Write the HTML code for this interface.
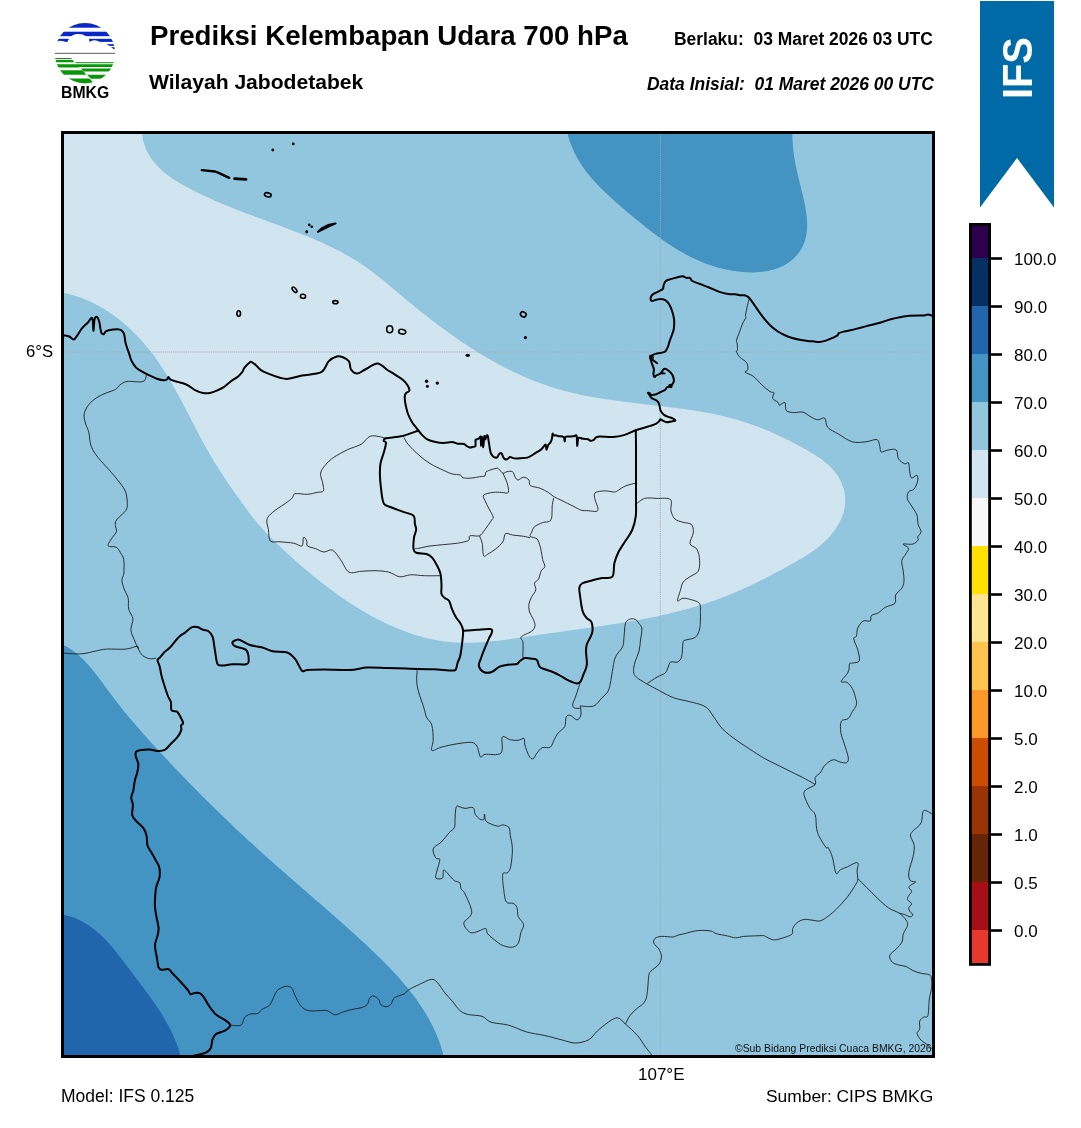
<!DOCTYPE html>
<html><head><meta charset="utf-8"><style>
html,body{margin:0;padding:0;background:#fff;width:1081px;height:1128px;overflow:hidden;position:relative}
.t{position:absolute;font-family:"Liberation Sans",sans-serif;white-space:nowrap;line-height:1;color:#000;will-change:transform}
.b{font-weight:bold}
.i{font-style:italic}
</style></head><body>
<svg width="70" height="70" viewBox="0 0 70 70" style="position:absolute;left:50px;top:18px">
<defs><clipPath id="lc"><circle cx="35" cy="35.2" r="30.2"/></clipPath></defs>
<g clip-path="url(#lc)">
<rect x="0" y="4" width="70" height="5.7" fill="#0a28c8"/>
<rect x="0" y="13.7" width="70" height="4.5" fill="#0a28c8"/>
<rect x="0" y="20.8" width="70" height="3.1" fill="#0a28c8"/>
<rect x="51" y="26.1" width="19" height="1.8" fill="#0a28c8"/>
<rect x="60" y="29.2" width="10" height="1.8" fill="#0a28c8"/>
<path d="M0,25 L4,25 Q9,21 17,24.5 L19,20.8 Q22,16 28,15.9 Q33,15.8 36,18.2 L39,20.8 L39.5,24 Q44,20.5 50,24 L51,26.1 Q56,24 61,29 L64,31.5 L70,31.5 L70,33 L0,33 Z" fill="#fff"/>
<rect x="0" y="34.8" width="70" height="1.1" fill="#6a6a6a"/>
<path d="M0,39.9 L21,39.9 L22,40.9 L0,40.9 Z" fill="#0a960a"/>
<path d="M0,42.1 L22.5,42.1 L24.6,44.3 L0,44.3 Z" fill="#0a960a"/>
<path d="M25,43.9 L70,43.9 L70,45.2 L26.2,45.2 Z" fill="#3aa83a"/>
<path d="M0,46.3 L70,46.3 L70,48.9 L29.5,48.9 L29,49.6 L0,49.6 Z" fill="#0a960a"/>
<path d="M31,50.5 L70,50.5 L70,53.6 L33.8,53.6 Z" fill="#0a960a"/>
<path d="M0,52.3 L32.5,52.3 L36.4,56.7 L0,56.7 Z" fill="#0a960a"/>
<path d="M37,56.7 L70,56.7 L70,60.7 L41,60.7 Z" fill="#0a960a"/>
<path d="M0,60.4 L39.5,60.4 L44.5,65.8 L0,65.8 Z" fill="#0a960a"/>
</g>
</svg>
<div class="t b" style="left:61.3px;top:85px;font-size:15.8px;transform:scaleY(1.1);transform-origin:0 100%">BMKG</div>
<div class="t b" style="left:150px;top:22.2px;font-size:27.65px">Prediksi Kelembapan Udara 700 hPa</div>
<div class="t b" style="left:149px;top:71.3px;font-size:21.1px">Wilayah Jabodetabek</div>
<div class="t b" style="right:148px;top:31.4px;font-size:17.45px">Berlaku:&nbsp;&nbsp;03 Maret 2026 03 UTC</div>
<div class="t b i" style="right:147.5px;top:75.5px;font-size:17.45px">Data Inisial:&nbsp;&nbsp;01 Maret 2026 00 UTC</div>
<svg width="1081" height="1128" style="position:absolute;left:0;top:0">
<path d="M980,1 L1054,1 L1054,207.5 L1017,158 L980,207.5 Z" fill="#006aa6"/>
</svg>
<div class="t b" style="left:1017.5px;top:68.3px;font-size:39.8px;color:#fff;transform:translate(-50%,-50%) rotate(-90deg) scaleY(1.05);transform-origin:center">IFS</div>
<svg width="1081" height="1128" viewBox="0 0 1081 1128" style="position:absolute;left:0;top:0">
<defs><clipPath id="mc"><rect x="64" y="134" width="868" height="921"/></clipPath></defs>
<g clip-path="url(#mc)">
<rect x="64" y="134" width="868" height="921" fill="#92c5de"/>
<path d="M143.0,130.0 L142.1,133.9 L142.5,136.6 L142.9,139.2 L143.5,141.7 L144.3,144.2 L145.1,146.6 L146.0,148.9 L147.0,151.2 L148.1,153.3 L149.3,155.5 L150.6,157.5 L152.0,159.5 L153.5,161.4 L155.0,163.3 L156.6,165.1 L158.3,166.9 L160.0,168.6 L161.8,170.3 L163.7,171.9 L165.6,173.5 L167.6,175.0 L169.6,176.5 L171.6,177.9 L173.7,179.4 L175.9,180.7 L178.0,182.1 L180.2,183.4 L182.4,184.7 L184.6,185.9 L186.9,187.1 L189.1,188.3 L191.4,189.5 L193.6,190.7 L195.9,191.8 L198.2,193.0 L200.4,194.1 L202.7,195.2 L205.0,196.2 L207.3,197.3 L209.6,198.3 L211.9,199.3 L214.2,200.4 L216.4,201.4 L218.7,202.3 L221.0,203.3 L223.3,204.3 L225.7,205.2 L228.0,206.2 L230.3,207.1 L232.6,208.0 L234.9,208.9 L237.2,209.8 L239.5,210.7 L241.8,211.6 L244.2,212.5 L246.5,213.4 L248.8,214.3 L251.1,215.1 L253.5,216.0 L255.8,216.9 L258.1,217.7 L260.4,218.6 L262.8,219.4 L265.1,220.3 L267.4,221.2 L269.8,222.0 L272.1,222.9 L274.4,223.7 L276.8,224.6 L279.1,225.5 L281.4,226.3 L283.8,227.2 L286.1,228.1 L288.4,229.0 L290.8,229.9 L293.1,230.8 L295.4,231.7 L297.8,232.6 L300.1,233.5 L302.4,234.4 L304.8,235.4 L307.1,236.3 L309.4,237.3 L311.8,238.3 L314.1,239.3 L316.4,240.3 L318.7,241.3 L321.1,242.3 L323.4,243.3 L325.7,244.4 L328.0,245.5 L330.3,246.6 L332.5,247.7 L334.8,248.8 L337.1,249.9 L339.3,251.1 L341.6,252.2 L343.8,253.4 L346.0,254.7 L348.2,255.9 L350.4,257.1 L352.5,258.4 L354.7,259.7 L356.8,261.0 L358.9,262.4 L361.0,263.8 L363.0,265.2 L365.1,266.6 L367.1,268.0 L369.1,269.5 L371.1,270.9 L373.1,272.4 L375.1,273.9 L377.0,275.4 L379.0,277.0 L380.9,278.5 L382.9,280.1 L384.8,281.7 L386.7,283.2 L388.6,284.8 L390.5,286.4 L392.4,288.0 L394.3,289.6 L396.2,291.2 L398.1,292.8 L400.0,294.4 L401.9,296.1 L403.8,297.7 L405.8,299.3 L407.7,300.9 L409.6,302.5 L411.6,304.0 L413.5,305.6 L415.4,307.2 L417.4,308.8 L419.3,310.4 L421.3,311.9 L423.3,313.5 L425.2,315.1 L427.2,316.6 L429.2,318.2 L431.2,319.7 L433.2,321.2 L435.2,322.8 L437.2,324.3 L439.2,325.8 L441.2,327.3 L443.3,328.8 L445.3,330.3 L447.3,331.8 L449.4,333.2 L451.4,334.7 L453.5,336.1 L455.5,337.6 L457.6,339.0 L459.7,340.4 L461.7,341.9 L463.8,343.3 L465.9,344.6 L468.0,346.0 L470.1,347.4 L472.2,348.7 L474.4,350.1 L476.5,351.4 L478.6,352.7 L480.7,354.0 L482.9,355.3 L485.0,356.6 L487.2,357.9 L489.4,359.1 L491.5,360.4 L493.7,361.6 L495.9,362.8 L498.1,364.0 L500.3,365.2 L502.5,366.3 L504.7,367.5 L506.9,368.6 L509.1,369.7 L511.4,370.8 L513.6,371.9 L515.8,373.0 L518.1,374.0 L520.3,375.1 L522.6,376.1 L524.9,377.1 L527.2,378.0 L529.5,379.0 L531.7,379.9 L534.1,380.9 L536.4,381.7 L538.7,382.6 L541.0,383.5 L543.3,384.3 L545.7,385.1 L548.0,385.9 L550.4,386.7 L552.7,387.5 L555.1,388.2 L557.5,388.9 L559.9,389.6 L562.3,390.3 L564.7,390.9 L567.1,391.5 L569.5,392.1 L571.9,392.7 L574.3,393.3 L576.8,393.8 L579.2,394.4 L581.6,394.9 L584.1,395.4 L586.6,395.9 L589.0,396.3 L591.5,396.8 L594.0,397.2 L596.4,397.7 L598.9,398.1 L601.4,398.5 L603.9,398.9 L606.4,399.2 L608.9,399.6 L611.4,400.0 L613.9,400.3 L616.4,400.7 L618.9,401.0 L621.4,401.3 L623.9,401.7 L626.4,402.0 L628.9,402.3 L631.4,402.6 L633.9,402.9 L636.5,403.2 L639.0,403.5 L641.5,403.8 L644.0,404.1 L646.5,404.4 L649.0,404.7 L651.6,405.0 L654.1,405.3 L656.6,405.5 L659.1,405.8 L661.6,406.1 L664.1,406.4 L666.7,406.7 L669.2,407.1 L671.7,407.4 L674.2,407.7 L676.7,408.0 L679.2,408.4 L681.7,408.7 L684.2,409.0 L686.7,409.4 L689.2,409.8 L691.6,410.1 L694.1,410.5 L696.6,410.9 L699.1,411.3 L701.5,411.8 L704.0,412.2 L706.5,412.6 L708.9,413.1 L711.4,413.6 L713.8,414.1 L716.2,414.6 L718.7,415.1 L721.1,415.7 L723.5,416.2 L725.9,416.8 L728.3,417.4 L730.7,418.0 L733.1,418.7 L735.5,419.3 L737.9,420.0 L740.2,420.7 L742.6,421.4 L744.9,422.2 L747.3,422.9 L749.6,423.7 L751.9,424.5 L754.3,425.4 L756.6,426.2 L758.9,427.1 L761.2,428.0 L763.5,428.9 L765.8,429.9 L768.1,430.8 L770.4,431.8 L772.7,432.8 L774.9,433.8 L777.2,434.9 L779.5,435.9 L781.8,437.0 L784.0,438.1 L786.3,439.2 L788.6,440.3 L790.9,441.5 L793.1,442.7 L795.4,443.9 L797.7,445.1 L799.9,446.3 L802.2,447.5 L804.5,448.8 L806.8,450.1 L809.0,451.4 L811.3,452.7 L813.5,454.1 L815.7,455.5 L817.9,456.9 L820.0,458.3 L822.1,459.8 L824.1,461.4 L826.0,463.0 L827.9,464.6 L829.8,466.3 L831.5,468.1 L833.2,469.9 L834.8,471.7 L836.3,473.7 L837.6,475.6 L838.9,477.7 L840.1,479.8 L841.1,482.0 L842.1,484.2 L842.9,486.5 L843.6,488.8 L844.2,491.1 L844.6,493.5 L845.0,495.9 L845.2,498.2 L845.2,500.7 L845.1,503.1 L844.9,505.5 L844.6,507.9 L844.1,510.3 L843.5,512.6 L842.7,515.0 L841.8,517.3 L840.8,519.6 L839.7,521.9 L838.5,524.1 L837.2,526.3 L835.9,528.4 L834.4,530.5 L832.9,532.5 L831.3,534.5 L829.7,536.4 L828.0,538.3 L826.2,540.1 L824.5,541.8 L822.6,543.5 L820.7,545.1 L818.8,546.7 L816.9,548.2 L814.9,549.7 L812.8,551.2 L810.8,552.6 L808.7,554.0 L806.6,555.4 L804.5,556.7 L802.3,558.0 L800.1,559.3 L797.9,560.6 L795.7,561.9 L793.5,563.1 L791.3,564.3 L789.1,565.6 L786.8,566.8 L784.6,568.0 L782.4,569.2 L780.1,570.4 L777.9,571.6 L775.6,572.8 L773.4,574.0 L771.2,575.2 L768.9,576.3 L766.6,577.5 L764.4,578.7 L762.1,579.8 L759.8,580.9 L757.6,582.1 L755.3,583.2 L753.0,584.3 L750.7,585.4 L748.5,586.5 L746.2,587.5 L743.9,588.6 L741.6,589.6 L739.3,590.6 L737.0,591.6 L734.7,592.6 L732.4,593.6 L730.0,594.5 L727.7,595.5 L725.4,596.4 L723.1,597.3 L720.7,598.1 L718.4,599.0 L716.1,599.9 L713.7,600.7 L711.4,601.5 L709.0,602.3 L706.7,603.1 L704.3,603.9 L701.9,604.6 L699.6,605.3 L697.2,606.1 L694.8,606.8 L692.4,607.5 L690.1,608.2 L687.7,608.8 L685.3,609.5 L682.9,610.1 L680.5,610.7 L678.1,611.4 L675.7,612.0 L673.3,612.6 L670.9,613.1 L668.5,613.7 L666.1,614.3 L663.7,614.8 L661.2,615.4 L658.8,615.9 L656.4,616.4 L654.0,616.9 L651.5,617.4 L649.1,617.9 L646.7,618.4 L644.2,618.8 L641.8,619.3 L639.3,619.8 L636.9,620.2 L634.5,620.7 L632.0,621.1 L629.6,621.5 L627.1,621.9 L624.6,622.4 L622.2,622.8 L619.7,623.2 L617.3,623.6 L614.8,624.0 L612.3,624.3 L609.8,624.7 L607.4,625.1 L604.9,625.5 L602.4,625.9 L599.9,626.2 L597.5,626.6 L595.0,626.9 L592.5,627.3 L590.0,627.7 L587.5,628.0 L585.0,628.4 L582.6,628.7 L580.1,629.1 L577.6,629.4 L575.1,629.8 L572.6,630.1 L570.1,630.5 L567.6,630.8 L565.1,631.2 L562.6,631.5 L560.1,631.8 L557.6,632.2 L555.1,632.6 L552.6,632.9 L550.1,633.3 L547.6,633.6 L545.1,634.0 L542.5,634.3 L540.0,634.7 L537.5,635.1 L535.0,635.4 L532.5,635.8 L530.0,636.2 L527.5,636.6 L525.0,637.0 L522.5,637.3 L519.9,637.7 L517.4,638.1 L514.9,638.5 L512.4,638.8 L509.9,639.2 L507.4,639.5 L504.9,639.8 L502.4,640.2 L499.9,640.5 L497.4,640.8 L494.9,641.0 L492.3,641.3 L489.8,641.6 L487.3,641.8 L484.9,642.0 L482.4,642.2 L479.9,642.3 L477.4,642.5 L474.9,642.6 L472.4,642.7 L469.9,642.7 L467.4,642.8 L465.0,642.8 L462.5,642.7 L460.0,642.7 L457.6,642.6 L455.1,642.4 L452.6,642.3 L450.2,642.1 L447.7,641.8 L445.3,641.5 L442.8,641.2 L440.4,640.8 L438.0,640.4 L435.5,640.0 L433.1,639.5 L430.7,639.0 L428.3,638.5 L425.9,637.9 L423.5,637.3 L421.1,636.6 L418.7,636.0 L416.3,635.2 L413.9,634.5 L411.6,633.7 L409.2,632.9 L406.9,632.1 L404.5,631.2 L402.2,630.3 L399.9,629.4 L397.5,628.5 L395.2,627.5 L392.9,626.5 L390.6,625.5 L388.3,624.5 L386.1,623.4 L383.8,622.3 L381.5,621.2 L379.3,620.1 L377.1,618.9 L374.8,617.8 L372.6,616.6 L370.4,615.4 L368.2,614.1 L366.0,612.9 L363.8,611.6 L361.7,610.4 L359.5,609.1 L357.4,607.7 L355.2,606.4 L353.1,605.1 L351.0,603.7 L348.9,602.3 L346.8,600.9 L344.7,599.5 L342.6,598.1 L340.6,596.7 L338.5,595.2 L336.5,593.8 L334.4,592.3 L332.4,590.8 L330.4,589.3 L328.4,587.8 L326.4,586.3 L324.4,584.8 L322.4,583.2 L320.4,581.7 L318.5,580.1 L316.5,578.6 L314.5,577.0 L312.6,575.4 L310.7,573.8 L308.7,572.2 L306.8,570.6 L304.9,568.9 L303.0,567.3 L301.1,565.7 L299.2,564.0 L297.3,562.4 L295.5,560.7 L293.6,559.1 L291.7,557.4 L289.9,555.7 L288.0,554.1 L286.2,552.4 L284.4,550.7 L282.5,549.0 L280.7,547.3 L278.9,545.6 L277.1,543.9 L275.3,542.2 L273.6,540.5 L271.8,538.8 L270.0,537.0 L268.3,535.2 L266.6,533.4 L264.9,531.6 L263.2,529.8 L261.6,528.0 L260.0,526.1 L258.4,524.2 L256.8,522.3 L255.2,520.3 L253.7,518.4 L252.1,516.4 L250.6,514.4 L249.1,512.4 L247.6,510.4 L246.1,508.4 L244.6,506.4 L243.1,504.4 L241.6,502.4 L240.2,500.3 L238.7,498.3 L237.2,496.3 L235.8,494.2 L234.3,492.2 L232.9,490.1 L231.5,488.0 L230.0,486.0 L228.6,483.9 L227.2,481.8 L225.8,479.8 L224.4,477.7 L223.0,475.6 L221.7,473.5 L220.3,471.4 L218.9,469.3 L217.6,467.1 L216.3,465.0 L215.0,462.9 L213.6,460.7 L212.4,458.6 L211.1,456.4 L209.8,454.3 L208.6,452.1 L207.3,449.9 L206.1,447.7 L204.9,445.6 L203.7,443.4 L202.5,441.2 L201.3,438.9 L200.1,436.7 L198.9,434.5 L197.7,432.3 L196.6,430.1 L195.4,427.9 L194.3,425.6 L193.1,423.4 L192.0,421.2 L190.8,419.0 L189.7,416.7 L188.5,414.5 L187.4,412.3 L186.2,410.1 L185.1,407.9 L183.9,405.6 L182.7,403.4 L181.6,401.2 L180.4,399.0 L179.2,396.8 L178.0,394.6 L176.8,392.4 L175.6,390.2 L174.4,388.1 L173.2,385.9 L172.0,383.7 L170.7,381.6 L169.4,379.4 L168.2,377.3 L166.9,375.2 L165.6,373.1 L164.2,371.0 L162.9,368.9 L161.6,366.8 L160.2,364.7 L158.8,362.7 L157.4,360.6 L155.9,358.6 L154.5,356.6 L153.0,354.6 L151.5,352.6 L150.0,350.6 L148.4,348.7 L146.8,346.7 L145.2,344.8 L143.6,342.9 L141.9,341.0 L140.2,339.1 L138.5,337.3 L136.8,335.5 L135.0,333.7 L133.2,331.9 L131.4,330.1 L129.5,328.4 L127.6,326.7 L125.7,325.0 L123.8,323.4 L121.9,321.7 L119.9,320.1 L117.9,318.6 L115.9,317.0 L113.8,315.5 L111.8,314.1 L109.7,312.7 L107.6,311.3 L105.5,309.9 L103.3,308.6 L101.2,307.3 L99.0,306.1 L96.8,304.9 L94.6,303.7 L92.3,302.6 L90.1,301.6 L87.8,300.5 L85.6,299.6 L83.3,298.7 L81.0,297.8 L78.7,297.0 L76.3,296.2 L74.0,295.5 L71.6,294.8 L69.3,294.2 L66.9,293.6 L64.5,293.1 L60.0,293.8 L60.0,130.0Z" fill="#d1e5f0"/>
<path d="M568.4,130.0 L567.8,134.4 L568.4,136.9 L569.1,139.3 L569.9,141.8 L570.8,144.2 L571.7,146.5 L572.7,148.8 L573.7,151.1 L574.8,153.4 L575.9,155.6 L577.1,157.8 L578.4,159.9 L579.6,162.0 L581.0,164.1 L582.4,166.2 L583.8,168.2 L585.2,170.2 L586.7,172.2 L588.3,174.2 L589.9,176.1 L591.5,178.0 L593.1,179.9 L594.8,181.8 L596.5,183.6 L598.2,185.5 L600.0,187.3 L601.8,189.1 L603.6,190.8 L605.4,192.6 L607.3,194.3 L609.2,196.1 L611.0,197.8 L612.9,199.5 L614.8,201.2 L616.8,202.9 L618.7,204.6 L620.6,206.2 L622.6,207.9 L624.5,209.6 L626.5,211.2 L628.4,212.9 L630.4,214.5 L632.3,216.2 L634.3,217.8 L636.2,219.4 L638.2,221.0 L640.1,222.6 L642.1,224.2 L644.1,225.8 L646.0,227.4 L648.0,229.0 L650.0,230.5 L652.0,232.1 L654.0,233.6 L656.0,235.1 L658.0,236.6 L660.0,238.0 L662.0,239.5 L664.1,240.9 L666.1,242.4 L668.2,243.7 L670.3,245.1 L672.3,246.5 L674.4,247.8 L676.5,249.1 L678.7,250.4 L680.8,251.6 L683.0,252.8 L685.1,254.0 L687.3,255.2 L689.5,256.3 L691.7,257.4 L693.9,258.5 L696.2,259.6 L698.5,260.6 L700.8,261.6 L703.1,262.5 L705.4,263.4 L707.7,264.3 L710.1,265.1 L712.5,265.9 L714.9,266.6 L717.4,267.4 L719.8,268.0 L722.3,268.7 L724.8,269.2 L727.4,269.8 L729.9,270.3 L732.5,270.7 L735.1,271.1 L737.7,271.5 L740.4,271.8 L743.0,272.0 L745.6,272.2 L748.3,272.3 L750.9,272.4 L753.5,272.4 L756.2,272.3 L758.8,272.1 L761.3,271.9 L763.9,271.6 L766.4,271.2 L768.9,270.7 L771.3,270.1 L773.7,269.5 L776.1,268.7 L778.4,267.9 L780.7,266.9 L782.9,265.9 L785.0,264.8 L787.1,263.5 L789.1,262.2 L791.0,260.7 L792.9,259.2 L794.6,257.5 L796.3,255.8 L797.8,254.0 L799.3,252.1 L800.6,250.1 L801.8,248.0 L802.9,245.9 L803.8,243.7 L804.7,241.5 L805.3,239.2 L805.9,236.9 L806.4,234.5 L806.7,232.1 L806.9,229.7 L807.1,227.2 L807.1,224.7 L807.1,222.2 L806.9,219.7 L806.7,217.1 L806.4,214.5 L806.1,212.0 L805.7,209.4 L805.2,206.8 L804.8,204.2 L804.2,201.6 L803.6,199.0 L803.0,196.3 L802.4,193.8 L801.8,191.2 L801.2,188.6 L800.5,186.0 L799.9,183.5 L799.3,181.0 L798.6,178.5 L798.0,176.0 L797.5,173.6 L796.9,171.1 L796.4,168.7 L795.9,166.3 L795.4,163.9 L795.0,161.5 L794.6,159.1 L794.2,156.7 L793.8,154.3 L793.5,151.9 L793.2,149.5 L793.0,147.0 L792.8,144.6 L792.6,142.1 L792.4,139.6 L792.4,137.0 L792.3,134.5 L792.1,130.0Z" fill="#4393c3"/>
<path d="M60.0,647.0 L65.0,645.7 L67.1,646.9 L69.2,648.2 L71.3,649.5 L73.3,650.9 L75.2,652.4 L77.1,654.0 L79.0,655.6 L80.8,657.2 L82.6,658.9 L84.3,660.6 L86.0,662.4 L87.7,664.2 L89.3,666.1 L90.9,667.9 L92.5,669.9 L94.1,671.8 L95.6,673.8 L97.2,675.8 L98.7,677.8 L100.2,679.8 L101.7,681.8 L103.2,683.8 L104.7,685.9 L106.2,687.9 L107.7,690.0 L109.2,692.0 L110.7,694.0 L112.2,696.1 L113.7,698.1 L115.2,700.1 L116.8,702.1 L118.3,704.1 L119.9,706.0 L121.4,708.0 L123.0,710.0 L124.6,711.9 L126.2,713.8 L127.8,715.8 L129.4,717.7 L131.0,719.6 L132.6,721.5 L134.3,723.4 L135.9,725.3 L137.5,727.2 L139.2,729.1 L140.8,731.0 L142.5,732.9 L144.1,734.8 L145.8,736.6 L147.5,738.5 L149.2,740.4 L150.9,742.2 L152.5,744.1 L154.2,745.9 L155.9,747.8 L157.6,749.6 L159.3,751.4 L161.0,753.3 L162.7,755.1 L164.5,756.9 L166.2,758.8 L167.9,760.6 L169.6,762.4 L171.3,764.2 L173.1,766.1 L174.8,767.9 L176.5,769.7 L178.3,771.5 L180.0,773.3 L181.7,775.1 L183.5,776.9 L185.2,778.8 L187.0,780.6 L188.7,782.4 L190.5,784.2 L192.3,786.0 L194.0,787.7 L195.8,789.5 L197.6,791.3 L199.3,793.1 L201.1,794.9 L202.9,796.7 L204.7,798.5 L206.4,800.2 L208.2,802.0 L210.0,803.8 L211.8,805.5 L213.6,807.3 L215.4,809.1 L217.2,810.8 L219.0,812.6 L220.8,814.3 L222.6,816.1 L224.4,817.8 L226.2,819.6 L228.0,821.3 L229.9,823.0 L231.7,824.8 L233.5,826.5 L235.3,828.2 L237.1,830.0 L239.0,831.7 L240.8,833.4 L242.6,835.1 L244.5,836.8 L246.3,838.5 L248.2,840.2 L250.0,841.9 L251.9,843.6 L253.7,845.3 L255.6,847.0 L257.4,848.7 L259.3,850.4 L261.1,852.1 L263.0,853.7 L264.9,855.4 L266.7,857.1 L268.6,858.8 L270.5,860.4 L272.3,862.1 L274.2,863.7 L276.1,865.4 L278.0,867.0 L279.8,868.7 L281.7,870.3 L283.6,872.0 L285.5,873.6 L287.4,875.3 L289.3,876.9 L291.1,878.6 L293.0,880.2 L294.9,881.8 L296.8,883.5 L298.7,885.1 L300.6,886.8 L302.5,888.4 L304.4,890.0 L306.3,891.7 L308.2,893.3 L310.0,894.9 L311.9,896.6 L313.8,898.2 L315.7,899.9 L317.6,901.5 L319.5,903.1 L321.4,904.8 L323.3,906.4 L325.2,908.1 L327.1,909.7 L328.9,911.4 L330.8,913.0 L332.7,914.7 L334.6,916.3 L336.5,918.0 L338.4,919.7 L340.2,921.3 L342.1,923.0 L344.0,924.7 L345.9,926.4 L347.7,928.0 L349.6,929.7 L351.5,931.4 L353.3,933.1 L355.2,934.8 L357.1,936.5 L358.9,938.2 L360.8,939.9 L362.6,941.6 L364.5,943.3 L366.3,945.1 L368.2,946.8 L370.0,948.5 L371.8,950.3 L373.7,952.0 L375.5,953.8 L377.3,955.5 L379.1,957.3 L380.9,959.1 L382.7,960.8 L384.5,962.6 L386.3,964.4 L388.1,966.2 L389.8,968.1 L391.6,969.9 L393.3,971.7 L395.0,973.6 L396.7,975.4 L398.4,977.3 L400.1,979.2 L401.7,981.1 L403.4,983.0 L405.0,984.9 L406.6,986.8 L408.2,988.7 L409.8,990.7 L411.3,992.7 L412.8,994.6 L414.3,996.6 L415.8,998.6 L417.3,1000.7 L418.7,1002.7 L420.1,1004.7 L421.5,1006.8 L422.8,1008.9 L424.1,1011.0 L425.4,1013.1 L426.7,1015.2 L428.0,1017.4 L429.2,1019.5 L430.3,1021.7 L431.5,1023.9 L432.6,1026.1 L433.7,1028.4 L434.7,1030.6 L435.8,1032.9 L436.7,1035.2 L437.7,1037.5 L438.6,1039.8 L439.5,1042.2 L440.3,1044.6 L441.1,1047.0 L441.8,1049.4 L442.6,1051.8 L443.2,1054.3 L442.2,1060.0 L60.0,1060.0Z" fill="#4393c3"/>
<path d="M60.0,916.3 L64.1,914.9 L66.7,915.5 L69.3,916.2 L71.7,917.0 L74.2,917.8 L76.5,918.8 L78.8,919.8 L81.1,920.9 L83.3,922.1 L85.4,923.4 L87.6,924.7 L89.6,926.1 L91.6,927.5 L93.6,929.0 L95.6,930.6 L97.5,932.2 L99.4,933.8 L101.2,935.5 L103.0,937.3 L104.8,939.1 L106.6,940.9 L108.3,942.8 L110.0,944.7 L111.7,946.6 L113.3,948.6 L115.0,950.6 L116.6,952.6 L118.2,954.6 L119.8,956.7 L121.4,958.7 L123.0,960.8 L124.6,962.9 L126.1,965.0 L127.7,967.0 L129.3,969.1 L130.9,971.2 L132.4,973.3 L134.0,975.4 L135.6,977.5 L137.1,979.5 L138.7,981.6 L140.3,983.7 L141.8,985.7 L143.4,987.8 L144.9,989.9 L146.4,991.9 L148.0,994.0 L149.5,996.1 L151.0,998.2 L152.4,1000.3 L153.9,1002.4 L155.4,1004.5 L156.8,1006.6 L158.2,1008.7 L159.6,1010.8 L160.9,1013.0 L162.3,1015.1 L163.6,1017.3 L164.9,1019.5 L166.1,1021.7 L167.4,1023.9 L168.6,1026.1 L169.7,1028.3 L170.9,1030.6 L172.0,1032.8 L173.0,1035.1 L174.1,1037.4 L175.1,1039.8 L176.0,1042.1 L176.9,1044.5 L177.8,1046.9 L178.6,1049.3 L179.4,1051.7 L180.1,1054.2 L179.0,1060.0 L60.0,1060.0Z" fill="#2166ac"/>
<line x1="64" y1="352" x2="932" y2="352" stroke="#aaaaaa" stroke-width="1" stroke-dasharray="1.1,1"/>
<line x1="660.3" y1="134" x2="660.3" y2="1055" stroke="#aaaaaa" stroke-width="1" stroke-dasharray="1.1,1"/>
<path d="M146.5,374.6 C145.9,375.8 146.3,380.4 143.0,381.5 C139.7,382.6 130.7,380.9 126.9,381.5 C123.1,382.1 121.9,383.6 120.0,384.9 C118.1,386.2 117.7,388.1 115.4,389.5 C113.1,390.9 109.2,391.6 106.1,393.0 C103.0,394.4 99.8,395.7 96.9,397.6 C94.0,399.5 90.9,401.8 88.8,404.5 C86.7,407.2 84.8,410.7 84.2,413.8 C83.6,416.9 84.6,419.9 85.4,423.0 C86.2,426.1 87.8,428.3 88.8,432.2 C89.8,436.1 89.5,441.9 91.1,446.1 C92.6,450.3 95.2,453.8 98.1,457.6 C101.0,461.4 104.8,464.9 108.4,469.1 C112.1,473.3 117.1,479.1 120.0,483.0 C122.9,486.9 124.5,488.8 125.7,492.2 C126.9,495.6 127.3,500.6 127.3,503.7 C127.3,506.8 127.5,507.9 125.7,510.6 C123.9,513.3 118.2,517.4 116.5,519.9 C114.8,522.4 115.4,523.7 115.4,525.6 C115.4,527.5 117.0,529.4 116.5,531.4 C116.0,533.4 113.6,535.5 112.2,537.7 C110.8,539.9 108.5,543.1 108.1,544.6 C107.6,546.1 108.1,546.0 109.5,546.5 C110.9,547.0 114.6,546.2 116.4,547.3 C118.2,548.3 119.3,550.7 120.5,552.8 C121.7,554.9 123.2,556.2 123.8,559.7 C124.3,563.2 124.1,570.1 123.8,573.5 C123.5,576.9 121.8,577.5 121.9,580.3 C122.0,583.0 123.5,587.0 124.6,590.0 C125.6,593.0 127.5,595.0 128.2,598.2 C128.9,601.4 127.9,605.8 128.7,609.2 C129.5,612.6 132.5,615.4 132.9,618.8 C133.3,622.2 130.7,626.3 130.9,629.8 C131.1,633.2 132.9,636.3 134.2,639.5 C135.4,642.7 137.0,646.5 138.4,649.1 C139.8,651.8 140.7,653.8 142.5,655.4 C144.3,657.0 147.1,658.2 149.4,658.7 C151.7,659.2 155.1,658.2 156.2,658.1" fill="none" stroke="#1e1e1e" stroke-width="0.9" stroke-linejoin="round"/>
<path d="M64.1,653.2 C67.1,653.3 76.7,654.2 82.0,653.8 C87.3,653.4 91.6,651.8 95.7,651.0 C99.8,650.2 101.7,649.4 106.7,649.1 C111.8,648.8 121.0,649.6 126.0,649.1 C131.1,648.6 134.9,646.3 137.0,646.3 C139.1,646.3 138.2,648.6 138.4,649.1" fill="none" stroke="#1e1e1e" stroke-width="0.9" stroke-linejoin="round"/>
<path d="M386.0,438.2 C383.5,437.8 375.0,435.0 370.9,436.0 C366.8,437.0 365.1,441.9 361.2,444.2 C357.3,446.5 352.1,447.5 347.5,449.7 C342.9,451.9 337.4,454.9 333.7,457.4 C330.0,459.9 327.7,462.3 325.5,464.9 C323.3,467.5 321.1,470.1 320.6,473.1 C320.1,476.1 322.1,479.7 322.6,482.7 C323.1,485.7 324.3,489.4 323.4,491.0 C322.5,492.6 319.8,491.8 317.1,492.4 C314.5,492.9 311.2,494.1 307.5,494.3 C303.8,494.5 297.6,493.1 295.1,493.7 C292.6,494.3 293.9,496.3 292.3,497.9 C290.7,499.5 288.0,501.6 285.5,503.4 C283.0,505.2 279.9,506.8 277.2,508.9 C274.4,510.9 270.7,513.7 269.0,515.7 C267.3,517.8 266.9,518.9 266.8,521.2 C266.7,523.5 267.8,526.2 268.4,529.5 C269.0,532.8 268.4,539.0 270.3,541.0 C272.2,543.0 276.1,541.4 280.0,541.8 C283.9,542.2 290.0,542.5 293.7,543.2 C297.4,543.9 300.4,546.9 302.0,546.0 C303.6,545.1 302.8,539.0 303.3,537.7 C303.9,536.4 304.7,537.6 305.3,538.3 C305.9,539.0 306.5,540.5 306.9,541.8 C307.3,543.1 306.0,544.9 307.5,546.0 C309.0,547.1 312.9,547.7 315.7,548.7 C318.4,549.7 321.2,551.8 324.0,552.0 C326.8,552.2 329.6,548.8 332.4,550.1 C335.2,551.4 337.9,556.0 340.6,559.7 C343.4,563.4 345.5,570.2 348.9,572.1 C352.3,574.0 356.8,571.5 361.2,571.3 C365.6,571.1 370.4,570.6 375.0,570.7 C379.6,570.8 384.6,571.1 388.7,572.1 C392.8,573.1 396.0,576.3 399.7,576.8 C403.4,577.2 406.6,575.0 410.7,574.8 C414.8,574.6 419.4,575.6 424.5,575.7 C429.6,575.9 438.2,575.7 441.0,575.7" fill="none" stroke="#1e1e1e" stroke-width="0.9" stroke-linejoin="round"/>
<path d="M403.9,437.4 C404.6,438.5 405.5,441.2 408.0,444.2 C410.5,447.2 415.3,452.0 419.0,455.2 C422.7,458.4 425.9,461.0 430.0,463.5 C434.1,466.0 440.0,468.7 443.7,470.4 C447.4,472.1 449.2,473.1 452.0,473.9 C454.8,474.7 458.4,474.4 460.2,475.0 C462.0,475.6 461.2,477.3 463.0,477.8 C464.8,478.3 468.4,478.3 471.2,478.1 C473.9,477.9 477.2,477.1 479.5,476.7 C481.8,476.3 483.9,476.7 485.0,475.9 C486.1,475.1 484.5,472.9 486.3,471.7 C488.1,470.4 493.9,468.8 496.0,468.4 C498.1,467.9 497.6,468.2 498.7,469.0 C499.8,469.8 501.4,472.7 502.8,473.1 C504.2,473.6 505.4,471.9 507.0,471.7 C508.6,471.5 511.1,470.8 512.5,471.7 C513.9,472.6 514.3,475.8 515.2,477.2 C516.1,478.6 516.6,480.0 518.0,480.0 C519.4,480.0 521.7,477.2 523.5,477.2 C525.3,477.2 527.9,478.6 529.0,480.0 C530.1,481.4 528.5,484.1 530.3,485.5 C532.1,486.9 537.0,487.1 540.0,488.2 C543.0,489.3 545.9,491.0 548.2,492.4 C550.5,493.8 551.4,495.1 553.7,496.5 C556.0,497.9 558.8,499.0 562.0,500.6 C565.2,502.2 569.8,504.5 573.0,506.1 C576.2,507.7 578.7,509.4 581.2,510.2 C583.7,511.0 585.7,510.5 588.2,510.7 C590.8,510.9 594.9,511.8 596.5,511.3 C598.1,510.9 598.1,509.9 597.9,508.0 C597.7,506.1 595.6,502.2 595.1,499.7 C594.6,497.2 593.5,494.4 595.1,492.9 C596.7,491.4 601.5,491.0 604.7,490.9 C607.9,490.8 612.1,492.1 614.4,492.0 C616.7,491.9 616.7,491.1 618.5,490.1 C620.3,489.1 622.5,487.2 625.4,486.0 C628.3,484.8 634.2,483.5 636.0,483.0" fill="none" stroke="#1e1e1e" stroke-width="0.9" stroke-linejoin="round"/>
<path d="M502.8,473.1 C503.5,474.7 506.1,479.5 507.0,482.7 C507.9,485.9 509.2,490.8 508.3,492.4 C507.4,494.0 504.0,492.4 501.5,492.4 C499.0,492.4 496.2,491.9 493.2,492.4 C490.2,492.8 485.0,493.7 483.6,495.1 C482.2,496.5 484.1,498.3 485.0,500.6 C485.9,502.9 487.7,506.1 489.1,508.9 C490.5,511.6 492.8,515.3 493.2,517.1 C493.6,518.9 493.2,517.7 491.8,519.8 C490.4,521.9 487.1,526.8 485.0,529.5 C482.9,532.2 482.0,534.8 479.5,535.8 C477.0,536.8 471.6,535.0 469.8,535.8 C468.0,536.6 470.6,539.3 468.5,540.5 C466.4,541.7 461.6,542.5 457.5,543.2 C453.4,543.9 448.3,544.1 443.7,544.6 C439.1,545.1 434.1,545.4 430.0,546.0 C425.9,546.6 421.5,547.8 419.0,548.2 C416.5,548.7 415.6,548.6 414.9,548.7" fill="none" stroke="#1e1e1e" stroke-width="0.9" stroke-linejoin="round"/>
<path d="M479.5,535.8 C479.9,537.0 481.5,539.9 482.2,543.2 C482.9,546.5 482.7,553.8 483.6,555.6 C484.5,557.4 485.6,555.4 487.7,554.2 C489.8,553.1 493.5,550.8 496.0,548.7 C498.5,546.6 501.2,544.3 502.8,541.8 C504.4,539.3 504.0,534.7 505.6,533.6 C507.2,532.5 509.5,534.5 512.5,535.0 C515.5,535.5 520.5,535.8 523.5,536.3 C526.5,536.8 529.2,537.5 530.3,537.7" fill="none" stroke="#1e1e1e" stroke-width="0.9" stroke-linejoin="round"/>
<path d="M553.7,497.9 C553.5,499.0 552.8,501.1 552.3,504.7 C551.8,508.3 552.6,516.8 551.0,519.8 C549.4,522.8 545.5,521.5 542.7,522.6 C540.0,523.8 536.3,525.1 534.5,526.7 C532.7,528.3 532.4,530.6 531.7,532.2 C531.0,533.8 529.4,535.1 530.3,536.3 C531.2,537.4 535.6,537.5 537.2,539.1 C538.8,540.7 539.3,543.9 540.0,546.0 C540.7,548.1 540.8,549.2 541.3,551.5 C541.8,553.8 542.1,557.2 542.7,559.7 C543.3,562.2 545.1,564.8 544.9,566.6 C544.7,568.4 542.3,568.6 541.3,570.7 C540.2,572.8 539.7,576.9 538.6,579.0 C537.5,581.1 535.0,581.3 534.5,583.1 C534.0,584.9 536.3,587.7 535.8,590.0 C535.3,592.3 532.8,594.5 531.7,596.8 C530.6,599.1 529.4,601.2 529.0,603.7 C528.6,606.2 528.8,609.5 529.5,612.0 C530.2,614.5 532.2,616.5 533.1,618.8 C534.0,621.1 535.2,623.6 535.0,625.7 C534.8,627.8 533.6,629.6 531.7,631.2 C529.8,632.8 525.3,634.1 523.5,635.3 C521.7,636.4 520.8,637.0 520.7,638.1 C520.6,639.2 522.5,639.2 522.9,642.2 C523.3,645.2 522.9,653.2 522.9,656.0 C522.9,658.8 522.9,658.5 522.9,659.0" fill="none" stroke="#1e1e1e" stroke-width="0.9" stroke-linejoin="round"/>
<path d="M636.4,503.9 C637.8,503.0 641.2,499.3 644.6,498.4 C648.0,497.5 652.7,498.2 657.0,498.4 C661.3,498.6 668.1,497.4 670.4,499.5 C672.7,501.6 670.2,507.8 671.0,511.0 C671.8,514.2 672.9,517.1 674.9,519.0 C676.9,520.9 680.4,521.4 683.1,522.3 C685.9,523.2 689.7,522.8 691.4,524.5 C693.1,526.2 693.5,529.5 693.3,532.7 C693.1,535.9 689.4,541.0 690.0,543.7 C690.6,546.5 695.3,546.5 696.9,549.2 C698.5,552.0 699.4,556.5 699.6,560.2 C699.8,563.9 699.8,568.5 698.2,571.2 C696.6,574.0 692.5,574.9 690.0,576.7 C687.5,578.5 684.7,579.9 683.1,582.2 C681.5,584.5 681.3,587.4 680.4,590.5 C679.5,593.6 677.1,599.6 677.6,600.9 C678.1,602.2 680.6,598.3 683.1,598.2 C685.6,598.1 690.0,599.2 692.7,600.1 C695.5,601.0 698.3,601.6 699.6,603.7 C700.9,605.8 700.3,609.8 700.4,612.5 C700.5,615.2 700.5,617.2 700.4,620.0 C700.3,622.8 700.4,626.1 699.6,629.0 C698.8,631.9 697.8,635.4 695.5,637.2 C693.2,639.0 688.0,639.2 685.9,640.0 C683.8,640.8 683.8,639.5 683.1,642.2 C682.4,645.0 682.6,653.2 681.7,656.5 C680.8,659.8 679.4,661.1 677.6,662.0 C675.8,662.9 672.3,661.1 670.7,662.0 C669.1,662.9 668.9,665.7 668.0,667.5 C667.1,669.3 667.0,671.4 665.2,673.0 C663.4,674.6 660.0,675.4 657.0,677.1 C654.0,678.8 649.0,682.4 647.4,683.4" fill="none" stroke="#1e1e1e" stroke-width="0.9" stroke-linejoin="round"/>
<path d="M580.0,706.0 C582.3,706.0 590.0,707.4 593.7,706.0 C597.4,704.6 599.7,700.0 602.0,697.7 C604.3,695.4 606.1,694.5 607.5,692.2 C608.9,689.9 609.3,688.1 610.2,684.0 C611.1,679.9 612.1,672.1 613.0,667.5 C613.9,662.9 614.1,660.0 615.7,656.5 C617.3,653.0 621.2,650.0 622.6,646.8 C624.0,643.6 623.5,641.1 624.0,637.2 C624.5,633.3 624.5,626.5 625.4,623.5 C626.3,620.5 627.9,620.0 629.5,619.3 C631.1,618.6 633.4,618.6 635.0,619.3 C636.6,620.0 638.0,621.9 639.1,623.5 C640.2,625.1 641.7,626.2 641.9,629.0 C642.1,631.8 641.0,636.3 640.5,640.0 C640.0,643.7 640.0,647.3 639.1,651.0 C638.2,654.7 635.9,658.6 635.0,662.0 C634.1,665.4 633.4,669.1 633.6,671.6 C633.8,674.1 634.3,675.1 636.4,677.1 C638.5,679.1 642.1,681.1 646.0,683.4 C649.9,685.7 655.1,688.4 659.7,690.8 C664.3,693.2 668.5,695.9 673.5,697.7 C678.5,699.5 685.4,700.6 690.0,701.8 C694.6,703.0 698.2,703.6 701.2,704.8 C704.2,706.0 705.8,706.7 708.1,709.0 C710.4,711.3 712.4,715.2 714.9,718.6 C717.4,722.0 719.5,726.0 723.2,729.6 C726.9,733.2 731.9,736.9 736.9,740.5 C741.9,744.1 748.8,748.5 753.4,751.5 C758.0,754.5 760.3,756.1 764.4,758.4 C768.5,760.7 773.5,763.0 778.1,765.3 C782.7,767.6 787.3,769.8 791.9,772.1 C796.5,774.4 801.7,776.9 805.6,779.0 C809.5,781.1 813.6,783.6 815.2,784.5" fill="none" stroke="#1e1e1e" stroke-width="0.9" stroke-linejoin="round"/>
<path d="M417.2,670.1 C417.1,672.0 416.5,677.7 416.7,681.3 C416.9,684.9 417.4,687.5 418.6,691.9 C419.8,696.3 422.6,703.7 423.9,707.9 C425.2,712.1 425.2,714.3 426.5,717.2 C427.8,720.1 430.7,721.3 431.8,725.1 C432.9,728.9 433.2,735.6 433.2,739.8 C433.2,744.0 430.5,749.2 431.8,750.4 C433.1,751.6 437.0,748.3 441.2,747.2 C445.4,746.1 452.0,744.6 457.1,743.8 C462.2,743.0 468.4,742.0 471.7,742.4 C475.0,742.8 475.5,744.0 477.0,746.4 C478.5,748.8 479.2,755.7 480.5,757.0 C481.8,758.3 481.6,755.0 485.0,754.4 C488.4,753.8 498.1,756.0 501.0,753.1 C503.9,750.2 500.8,739.3 502.3,737.1 C503.9,734.9 507.6,739.3 510.3,739.8 C513.0,740.3 516.0,740.5 518.3,740.3 C520.6,740.1 523.0,737.6 524.1,738.4 C525.2,739.2 524.1,742.2 524.9,745.1 C525.7,748.0 527.6,753.4 528.9,755.7 C530.2,758.0 531.6,759.3 532.9,758.9 C534.2,758.5 535.3,755.0 536.9,753.1 C538.5,751.2 540.0,748.7 542.2,747.7 C544.4,746.7 548.2,748.5 550.2,747.2 C552.2,745.9 552.9,742.1 554.2,739.8 C555.5,737.4 556.3,735.3 558.1,733.1 C559.9,730.9 563.5,729.1 564.8,726.5 C566.1,723.9 565.2,719.1 566.1,717.2 C567.0,715.3 568.3,714.9 570.1,715.3 C571.9,715.7 575.0,719.7 576.8,719.8 C578.6,719.9 580.1,717.7 580.7,715.8 C581.4,713.9 580.8,710.0 580.7,708.4 C580.6,706.8 580.1,706.4 580.0,706.0" fill="none" stroke="#1e1e1e" stroke-width="0.9" stroke-linejoin="round"/>
<path d="M580.7,708.4 C579.6,708.3 575.4,708.6 574.1,707.9 C572.8,707.1 572.6,705.7 572.8,703.9 C573.0,702.1 574.5,699.7 575.4,697.2 C576.3,694.8 577.3,691.5 578.1,689.2 C578.9,686.9 579.7,684.4 580.0,683.4" fill="none" stroke="#1e1e1e" stroke-width="0.9" stroke-linejoin="round"/>
<path d="M457.1,805.7 C457.6,805.9 458.5,806.3 459.8,806.8 C461.1,807.2 462.9,808.3 465.1,808.4 C467.3,808.5 471.4,806.6 473.1,807.6 C474.8,808.6 474.1,812.3 475.2,814.2 C476.3,816.1 478.3,818.1 479.7,819.0 C481.1,819.9 482.9,820.3 483.7,819.5 C484.5,818.7 484.1,814.0 484.5,814.2 C484.9,814.4 484.6,819.2 485.8,820.9 C487.0,822.6 489.6,823.4 491.7,824.3 C493.8,825.2 496.4,826.1 498.3,826.2 C500.2,826.3 501.0,824.7 502.8,824.9 C504.6,825.1 507.8,825.7 509.0,827.5 C510.2,829.3 509.7,832.0 510.3,835.5 C510.9,839.0 512.3,843.7 512.4,848.8 C512.5,853.9 511.6,862.1 510.8,866.1 C510.0,870.1 508.9,871.4 507.6,872.7 C506.3,874.0 503.5,871.3 502.8,874.0 C502.1,876.7 503.0,884.0 503.6,888.7 C504.2,893.4 504.8,899.6 506.3,902.0 C507.9,904.4 511.1,902.4 512.9,903.3 C514.7,904.2 516.0,905.1 516.9,907.3 C517.8,909.5 517.2,913.7 518.3,916.6 C519.4,919.5 523.2,922.0 523.6,924.6 C524.0,927.2 521.8,929.4 520.9,932.5 C520.0,935.6 519.7,940.8 518.3,943.2 C516.9,945.7 514.8,946.8 512.4,947.2 C509.9,947.6 506.2,946.7 503.6,945.8 C501.0,944.9 499.6,943.8 497.0,941.8 C494.4,939.8 489.6,936.1 487.7,933.9 C485.8,931.7 487.4,929.0 485.8,928.5 C484.2,928.0 481.0,930.5 478.4,931.2 C475.8,931.9 472.8,933.8 470.4,932.5 C468.0,931.2 463.6,926.5 463.8,923.2 C464.0,919.9 471.5,917.5 471.7,912.6 C471.9,907.7 466.9,898.0 465.1,894.0 C463.3,890.0 462.0,890.6 461.1,888.7 C460.2,886.8 460.9,884.1 459.8,882.8 C458.7,881.5 455.9,881.7 454.4,880.7 C452.8,879.7 452.3,878.5 450.5,876.7 C448.7,874.9 445.1,869.8 443.8,870.0 C442.5,870.2 443.8,876.7 442.5,878.0 C441.2,879.3 436.7,879.3 435.8,878.0 C434.9,876.7 436.5,873.1 437.2,870.0 C437.9,866.9 440.0,861.4 439.8,859.4 C439.6,857.4 436.9,859.9 435.8,858.1 C434.7,856.3 432.3,851.5 433.2,848.8 C434.1,846.1 438.5,844.8 441.2,842.1 C443.9,839.4 446.9,835.2 449.1,832.8 C451.3,830.4 453.4,829.7 454.4,827.5 C455.4,825.3 454.8,822.6 455.0,819.5 C455.2,816.4 455.4,811.2 455.8,808.9 C456.2,806.6 456.9,806.2 457.1,805.7" fill="none" stroke="#1e1e1e" stroke-width="0.9" stroke-linejoin="round"/>
<path d="M230.2,1025.2 C232.0,1025.2 238.5,1026.5 240.9,1025.2 C243.3,1024.0 242.9,1019.6 244.4,1017.7 C245.9,1015.9 247.8,1014.8 250.0,1014.1 C252.2,1013.4 255.9,1014.2 257.8,1013.5 C259.8,1012.8 259.8,1011.0 261.7,1009.6 C263.6,1008.2 267.6,1007.2 269.5,1005.3 C271.4,1003.3 272.1,1000.4 273.4,997.9 C274.7,995.4 275.2,992.5 277.3,990.5 C279.4,988.5 283.7,986.6 286.1,986.2 C288.5,985.8 290.4,986.7 291.9,988.2 C293.3,989.7 293.3,992.1 294.8,995.0 C296.3,997.9 298.4,1003.1 300.7,1005.7 C303.0,1008.3 305.2,1009.8 308.5,1010.6 C311.8,1011.4 317.1,1010.6 320.2,1010.6 C323.3,1010.6 325.1,1010.1 327.0,1010.6 C328.9,1011.1 330.4,1012.8 331.9,1013.5 C333.4,1014.2 334.2,1015.1 335.8,1014.9 C337.4,1014.7 339.0,1013.4 341.6,1012.5 C344.2,1011.6 348.1,1010.4 351.4,1009.6 C354.6,1008.8 358.5,1008.5 361.1,1007.7 C363.7,1006.9 365.5,1006.3 367.0,1004.7 C368.5,1003.1 368.8,999.4 369.9,997.9 C371.0,996.4 372.3,995.7 373.8,996.0 C375.3,996.3 377.5,998.0 378.7,999.5 C379.9,1001.0 379.7,1003.5 381.0,1004.7 C382.3,1005.9 384.8,1006.9 386.5,1006.7 C388.2,1006.6 390.3,1005.1 391.4,1003.8 C392.5,1002.5 392.2,1000.2 393.3,998.9 C394.4,997.6 396.4,996.8 398.2,996.0 C400.0,995.2 402.2,995.0 404.0,994.0 C405.8,993.0 406.3,991.3 408.9,989.7 C411.5,988.1 415.9,986.0 419.6,984.3 C423.3,982.6 428.4,979.7 431.3,979.4 C434.2,979.1 434.9,980.0 437.2,982.3 C439.5,984.6 442.4,989.8 445.0,993.0 C447.6,996.2 450.3,998.9 452.8,1001.8 C455.3,1004.7 457.4,1008.5 460.0,1010.6 C462.6,1012.7 464.9,1013.7 468.6,1014.6 C472.3,1015.5 478.3,1015.0 482.0,1016.3 C485.7,1017.5 486.4,1020.6 490.8,1022.1 C495.2,1023.6 502.7,1023.6 508.6,1025.2 C514.5,1026.8 520.5,1030.2 526.4,1031.9 C532.3,1033.6 538.2,1034.1 544.1,1035.4 C550.0,1036.7 556.7,1038.6 561.9,1039.9 C567.1,1041.2 570.8,1043.0 575.2,1043.0 C579.6,1043.0 584.8,1041.9 588.5,1039.9 C592.2,1037.9 594.1,1034.0 597.4,1031.0 C600.7,1028.0 605.1,1024.3 608.5,1022.1 C611.9,1019.9 614.8,1017.5 617.6,1017.8 C620.4,1018.1 622.1,1021.1 625.4,1024.0 C628.7,1026.9 634.0,1031.6 637.4,1035.4 C640.8,1039.2 643.2,1043.9 645.5,1047.0 C647.8,1050.1 649.8,1052.3 650.9,1053.8 C652.0,1055.3 651.8,1055.6 652.0,1056.0" fill="none" stroke="#1e1e1e" stroke-width="0.9" stroke-linejoin="round"/>
<path d="M625.4,1024.0 C626.2,1022.6 628.1,1018.0 630.0,1015.5 C631.9,1013.0 634.2,1011.0 636.6,1008.8 C639.0,1006.6 642.6,1004.8 644.4,1002.2 C646.2,999.6 646.5,997.8 647.2,993.3 C647.9,988.8 648.2,979.2 648.8,975.5 C649.4,971.8 649.3,973.0 651.0,971.1 C652.7,969.2 657.0,966.8 658.8,964.4 C660.5,962.0 661.5,959.3 661.5,956.7 C661.5,954.1 660.1,951.1 658.8,948.9 C657.5,946.7 654.5,945.0 653.9,943.3 C653.3,941.5 653.7,939.5 655.0,938.4 C656.3,937.2 658.8,936.6 661.8,936.4 C664.8,936.2 670.1,937.2 672.8,937.0 C675.5,936.8 675.9,935.7 678.2,935.1 C680.5,934.5 683.7,933.9 686.4,933.2 C689.1,932.5 691.9,931.5 694.6,931.0 C697.3,930.5 700.1,930.4 702.8,930.4 C705.5,930.4 708.7,930.5 711.0,931.0 C713.3,931.5 713.7,932.9 716.4,933.7 C719.1,934.5 724.1,935.2 727.3,935.9 C730.5,936.6 732.8,937.7 735.5,937.8 C738.2,937.9 740.5,936.7 743.7,936.4 C746.9,936.1 751.4,936.0 754.6,935.9 C757.8,935.8 761.0,935.5 762.8,935.6 C764.6,935.7 764.1,935.8 765.5,936.4 C766.9,937.0 769.2,938.7 771.0,939.2 C772.8,939.8 773.8,940.2 776.5,939.7 C779.2,939.2 784.8,937.4 787.4,936.4 C790.0,935.4 791.4,935.1 792.3,933.7 C793.2,932.4 792.0,930.1 792.8,928.3 C793.6,926.5 795.1,924.3 796.9,922.8 C798.7,921.3 801.3,920.0 803.8,919.5 C806.3,919.0 809.3,919.9 812.0,920.1 C814.7,920.3 817.4,921.6 820.1,920.9 C822.8,920.2 825.6,918.0 828.3,916.0 C831.0,914.0 833.3,912.3 836.5,909.1 C839.7,905.9 844.2,901.0 847.4,896.9 C850.6,892.8 853.9,887.6 855.6,884.6 C857.3,881.6 857.6,881.4 857.8,879.1 C858.0,876.8 856.9,873.4 857.0,870.9 C857.1,868.4 858.5,865.5 858.3,864.1 C858.1,862.8 857.4,862.3 855.6,862.8 C853.8,863.2 849.9,865.7 847.4,866.8 C844.9,867.9 842.5,868.5 840.6,869.6 C838.7,870.7 837.4,875.2 836.0,873.1 C834.6,871.0 833.7,861.5 832.4,857.3 C831.1,853.1 829.3,849.3 828.3,847.7 C827.3,846.1 827.7,849.5 826.2,847.7 C824.7,845.9 820.9,839.9 819.3,836.7 C817.7,833.5 817.3,832.2 816.6,828.5 C815.9,824.8 816.4,818.1 815.2,814.7 C814.1,811.3 811.5,811.1 809.7,807.9 C807.9,804.7 804.9,798.5 804.2,795.5 C803.5,792.5 803.8,791.8 805.6,790.0 C807.4,788.2 813.6,786.6 815.2,784.5 C816.8,782.4 814.3,779.7 815.2,777.6 C816.1,775.5 819.1,774.2 820.7,772.1 C822.3,770.0 822.7,767.3 824.8,765.3 C826.9,763.2 830.6,760.3 833.1,759.8 C835.6,759.2 837.6,761.5 839.9,762.0 C842.2,762.5 845.4,763.3 846.8,762.5 C848.2,761.7 848.7,760.2 848.2,757.0 C847.8,753.8 845.3,747.4 844.1,743.3 C842.9,739.2 841.3,736.0 840.8,732.3 C840.3,728.6 840.1,723.6 841.3,721.3 C842.5,719.0 846.4,720.2 848.2,718.6 C850.0,717.0 850.9,714.0 852.3,711.7 C853.7,709.4 855.8,707.1 856.4,704.8 C857.0,702.5 856.3,700.7 855.6,698.0 C854.9,695.3 853.8,691.0 852.3,688.4 C850.8,685.8 848.6,683.4 846.8,682.3 C845.0,681.1 841.1,683.2 841.3,681.5 C841.5,679.8 846.8,674.9 848.2,671.9 C849.6,668.9 848.9,665.1 849.6,663.6 C850.3,662.1 850.7,663.6 852.3,663.1 C853.9,662.6 858.3,663.1 859.2,660.9 C860.1,658.7 858.7,653.6 857.8,649.9 C856.9,646.2 853.9,641.2 853.7,638.9 C853.5,636.6 855.7,638.0 856.4,636.2 C857.1,634.4 856.6,630.4 857.8,627.9 C858.9,625.4 861.2,622.1 863.3,621.0 C865.4,619.9 868.8,621.9 870.2,621.0 C871.6,620.1 870.1,616.9 871.5,615.5 C872.9,614.1 876.1,614.2 878.4,612.8 C880.7,611.4 882.5,608.9 885.3,607.3 C888.0,605.7 893.2,605.3 894.9,603.2 C896.6,601.1 894.6,597.4 895.7,594.9 C896.9,592.4 900.4,590.4 901.8,588.1 C903.2,585.8 903.8,584.2 904.0,581.2 C904.2,578.2 903.5,573.6 903.1,570.2 C902.7,566.8 901.3,563.4 901.8,560.6 C902.3,557.9 904.8,555.8 905.9,553.7 C907.0,551.6 909.1,549.8 908.6,548.2 C908.1,546.6 902.4,544.8 903.1,544.1 C903.8,543.4 910.2,544.8 912.7,544.1 C915.2,543.4 917.4,541.2 918.2,540.0 C919.0,538.8 917.2,538.5 917.7,537.1 C918.2,535.7 920.9,533.7 921.0,531.6 C921.1,529.5 918.9,527.5 918.2,524.7 C917.5,522.0 917.9,518.1 916.9,515.1 C915.9,512.1 913.8,509.6 912.2,506.9 C910.6,504.1 907.9,501.1 907.3,498.6 C906.7,496.1 907.5,493.4 908.6,491.8 C909.7,490.2 912.6,490.8 914.1,489.0 C915.6,487.2 917.2,483.1 917.7,480.8 C918.2,478.5 918.0,475.8 916.9,475.3 C915.8,474.8 912.6,478.9 911.4,478.0 C910.2,477.1 910.0,472.3 909.5,469.8 C909.0,467.3 909.4,463.9 908.6,462.9 C907.8,461.9 906.2,464.4 904.5,463.7 C902.8,463.0 899.9,461.1 898.5,458.8 C897.1,456.5 898.0,451.5 896.3,450.0 C894.5,448.5 890.5,449.7 888.0,450.0 C885.5,450.3 882.6,452.5 881.2,451.9 C879.8,451.3 880.5,448.4 879.8,446.4 C879.1,444.3 879.3,440.4 877.0,439.6 C874.7,438.8 870.1,441.4 866.0,441.8 C861.9,442.2 856.9,443.1 852.3,441.8 C847.7,440.5 842.7,436.5 838.6,434.1 C834.5,431.7 829.9,429.9 827.6,427.2 C825.3,424.5 826.4,419.3 824.8,418.1 C823.2,416.9 820.3,420.0 818.0,419.8 C815.7,419.6 813.6,418.3 811.1,417.0 C808.6,415.7 805.6,412.8 802.9,412.1 C800.1,411.4 797.4,412.8 794.6,412.6 C791.9,412.4 788.0,412.4 786.4,410.7 C784.8,409.0 786.1,403.4 785.0,402.5 C783.9,401.6 780.6,405.2 779.5,405.2 C778.4,405.2 779.2,403.6 778.1,402.5 C777.0,401.4 773.3,400.0 772.6,398.4 C771.9,396.8 774.5,394.0 774.0,392.9 C773.5,391.8 772.0,392.9 769.9,391.5 C767.8,390.1 764.4,387.1 761.6,384.6 C758.9,382.1 756.1,378.4 753.4,376.4 C750.7,374.3 746.1,373.4 745.2,372.3 C744.3,371.2 747.7,371.1 747.9,369.5 C748.1,367.9 747.9,364.7 746.5,362.6 C745.1,360.5 741.4,358.9 739.7,357.1 C738.0,355.3 736.8,352.8 736.4,351.6 C736.0,350.4 737.4,351.2 737.5,349.9 C737.6,348.5 737.3,345.1 737.1,343.5 C736.9,341.9 736.2,341.9 736.5,340.2 C736.8,338.5 738.4,335.2 739.1,333.1 C739.9,331.1 740.4,329.6 741.0,327.9 C741.6,326.2 742.2,324.4 743.0,322.7 C743.8,321.0 745.4,318.9 745.8,317.6 C746.2,316.3 745.3,316.5 745.5,315.0 C745.7,313.5 746.4,310.6 746.8,308.5 C747.2,306.4 747.7,304.4 748.1,302.7 C748.5,301.0 749.2,298.9 749.4,298.1" fill="none" stroke="#1e1e1e" stroke-width="0.9" stroke-linejoin="round"/>
<path d="M858.3,879.1 C859.7,880.5 863.3,884.1 866.5,887.3 C869.7,890.5 873.8,894.8 877.4,898.2 C881.0,901.6 884.8,905.3 888.4,907.8 C892.0,910.3 896.3,911.2 899.3,913.2 C902.2,915.2 904.7,918.1 906.1,920.1 C907.5,922.1 908.0,923.2 907.5,925.5 C907.0,927.8 904.3,931.0 903.4,933.7 C902.5,936.4 903.1,939.4 902.0,941.9 C900.9,944.4 898.5,946.4 896.5,948.7 C894.5,951.0 890.4,953.2 889.7,955.5 C889.0,957.8 890.9,960.8 892.5,962.4 C894.1,964.0 897.0,964.4 899.3,965.1 C901.6,965.8 903.8,965.6 906.1,966.5 C908.4,967.4 910.4,969.5 912.9,970.6 C915.4,971.7 918.4,972.6 921.1,973.3 C923.8,974.0 927.6,973.8 929.3,974.7 C931.0,975.6 931.1,976.4 931.5,978.7 C931.9,981.0 931.9,984.9 931.5,988.3 C931.1,991.7 929.9,994.7 929.3,999.2 C928.7,1003.8 928.8,1012.6 927.9,1015.6 C927.0,1018.6 925.2,1016.1 923.8,1017.0 C922.4,1017.9 920.4,1019.1 919.7,1021.1 C919.0,1023.1 920.2,1027.2 919.7,1029.2 C919.2,1031.2 916.8,1031.5 917.0,1033.3 C917.2,1035.1 919.5,1038.4 921.1,1040.2 C922.7,1042.0 924.9,1042.9 926.6,1044.2 C928.3,1045.5 930.4,1047.3 931.5,1048.3 C932.6,1049.3 932.8,1049.7 933.0,1050.0" fill="none" stroke="#1e1e1e" stroke-width="0.9" stroke-linejoin="round"/>
<path d="M933.0,814.7 C931.5,814.0 925.7,809.2 923.7,810.6 C921.7,812.0 922.8,819.6 921.0,823.0 C919.2,826.4 914.5,829.0 912.7,831.2 C911.0,833.4 910.4,834.0 910.5,836.0 C910.6,838.0 912.9,841.0 913.5,843.0 C914.1,845.0 914.4,845.6 914.3,848.0 C914.2,850.4 913.8,853.2 912.9,857.3 C912.0,861.3 909.2,868.4 908.8,872.3 C908.3,876.2 909.1,878.9 910.2,880.5 C911.4,882.1 915.5,881.2 915.7,881.9 C915.9,882.6 912.8,883.7 911.6,884.6 C910.5,885.5 908.8,886.2 908.8,887.3 C908.8,888.4 911.6,890.0 911.6,891.4 C911.6,892.8 909.5,894.1 908.8,895.5 C908.1,896.9 907.0,898.2 907.5,899.6 C908.0,901.0 911.4,902.3 911.6,903.7 C911.8,905.1 909.0,906.4 908.8,907.8 C908.6,909.2 909.5,910.8 910.2,911.9 C910.9,913.0 912.9,913.8 912.9,914.6 C912.9,915.4 911.6,916.8 910.2,916.8 C908.8,916.8 906.5,915.2 904.7,914.6 C902.9,914.0 900.2,913.4 899.3,913.2" fill="none" stroke="#1e1e1e" stroke-width="0.9" stroke-linejoin="round"/>
<path d="M64.2,335.4 C65.0,335.6 67.6,335.8 69.2,336.5 C70.8,337.2 72.5,339.7 73.8,339.5 C75.1,339.3 75.9,337.2 77.3,335.4 C78.7,333.5 80.2,330.5 81.9,328.4 C83.6,326.3 86.0,324.4 87.7,322.7 C89.4,321.0 91.3,316.8 92.3,318.1 C93.2,319.4 93.0,330.5 93.4,330.7 C93.8,330.9 94.0,321.5 94.6,319.2 C95.2,316.9 96.1,316.5 96.9,316.9 C97.7,317.3 98.6,319.6 99.2,321.5 C99.8,323.4 100.0,326.5 100.4,328.4 C100.8,330.3 100.9,332.0 101.5,333.0 C102.1,334.0 103.0,334.5 103.8,334.2 C104.6,333.9 104.6,332.0 106.1,331.2 C107.6,330.4 110.7,329.9 113.0,329.6 C115.3,329.3 118.3,329.1 120.0,329.6 C121.7,330.1 122.6,331.5 123.4,332.6 C124.2,333.8 124.2,334.7 124.6,336.5 C125.0,338.3 124.9,340.5 125.7,343.4 C126.5,346.3 128.2,350.9 129.2,353.8 C130.2,356.7 130.3,358.4 131.5,360.7 C132.7,363.0 134.2,365.7 136.1,367.6 C138.0,369.5 140.7,370.9 143.0,372.2 C145.3,373.5 147.6,374.6 149.9,375.7 C152.2,376.8 154.6,377.9 156.9,378.7 C159.2,379.5 162.1,380.2 163.8,380.3 C165.5,380.4 166.4,379.8 167.2,379.2 C168.0,378.6 167.8,376.8 168.4,376.9 C169.0,377.0 169.2,378.8 170.7,379.6 C172.2,380.4 175.3,381.2 177.6,381.9 C179.9,382.6 182.6,383.1 184.5,383.8 C186.4,384.5 187.3,385.0 189.2,386.1 C191.1,387.2 193.8,389.6 196.1,390.7 C198.4,391.8 200.7,392.6 203.0,393.0 C205.3,393.4 207.6,393.4 209.9,393.0 C212.2,392.6 214.5,391.7 216.8,390.7 C219.1,389.7 221.4,388.7 223.7,387.2 C226.0,385.7 228.4,383.2 230.7,381.5 C233.0,379.8 235.7,378.4 237.6,376.9 C239.5,375.3 241.0,373.8 242.2,372.2 C243.3,370.6 243.3,369.1 244.5,367.6 C245.7,366.1 247.9,363.9 249.1,363.0 C250.2,362.1 250.2,361.5 251.4,361.9 C252.6,362.3 254.5,364.0 256.0,365.3 C257.5,366.6 258.7,368.5 260.6,369.9 C262.5,371.2 264.4,372.1 267.6,373.4 C270.8,374.7 276.6,376.8 280.0,377.7 C283.4,378.6 284.5,379.2 288.2,378.8 C291.9,378.4 296.5,376.6 302.0,375.5 C307.5,374.4 316.8,374.6 321.2,372.2 C325.6,369.8 326.0,364.0 328.6,361.4 C331.2,358.8 334.4,357.2 336.8,356.5 C339.2,355.8 340.9,356.5 342.9,357.3 C344.9,358.1 347.6,359.4 349.0,361.4 C350.4,363.4 349.6,367.5 351.0,369.5 C352.4,371.5 354.7,373.6 357.1,373.6 C359.5,373.6 361.8,371.2 365.2,369.5 C368.6,367.8 373.8,363.3 377.5,363.4 C381.2,363.5 384.6,368.2 387.4,370.0 C390.2,371.8 391.7,372.5 394.2,374.1 C396.7,375.7 400.3,377.8 402.5,379.6 C404.7,381.4 406.2,383.3 407.4,385.1 C408.5,386.9 409.7,389.2 409.4,390.6 C409.1,392.0 406.6,392.2 405.8,393.4 C405.0,394.5 404.7,395.4 404.7,397.5 C404.7,399.6 405.2,402.9 405.8,405.7 C406.4,408.4 406.9,411.2 408.0,414.0 C409.1,416.8 410.7,419.9 412.1,422.2 C413.5,424.5 415.1,426.3 416.2,427.7 C417.2,429.1 417.5,429.4 418.4,430.5 C419.3,431.6 420.2,433.1 421.7,434.6 C423.2,436.1 424.9,438.1 427.2,439.3 C429.5,440.5 432.8,441.4 435.5,442.0 C438.2,442.6 440.9,442.9 443.7,442.9 C446.4,442.9 449.7,441.9 452.0,442.0 C454.3,442.1 455.5,443.4 457.5,443.7 C459.5,444.0 462.4,443.6 463.9,444.0 C465.4,444.4 465.5,445.3 466.5,445.9 C467.5,446.5 468.6,447.3 469.7,447.5 C470.8,447.7 472.0,447.2 473.0,446.9 C474.0,446.6 475.1,447.0 475.5,445.9 C475.9,444.8 475.3,441.2 475.5,440.1 C475.7,439.0 476.2,439.7 476.8,439.4 C477.4,439.1 478.8,438.5 479.4,438.1 C480.0,437.7 480.4,435.5 480.7,436.8 C481.0,438.1 480.8,445.9 481.0,445.9 C481.2,445.9 481.6,436.6 482.0,436.8 C482.4,437.0 482.9,447.3 483.3,447.2 C483.7,447.1 484.0,437.5 484.3,436.2 C484.6,434.9 484.9,439.5 485.3,439.4 C485.7,439.3 486.2,436.0 486.6,435.5 C487.0,435.0 487.4,435.1 487.8,436.2 C488.2,437.3 488.4,439.7 488.8,442.0 C489.2,444.3 489.6,447.9 490.0,449.8 C490.4,451.8 490.5,452.5 491.1,453.7 C491.7,454.9 492.7,456.2 493.7,456.9 C494.7,457.5 496.0,458.0 496.9,457.6 C497.8,457.2 498.2,455.1 498.9,454.3 C499.5,453.5 500.3,453.0 500.8,453.0 C501.3,453.0 501.7,453.5 502.1,454.3 C502.5,455.1 502.8,456.7 503.4,457.6 C504.0,458.5 505.1,459.4 506.0,459.5 C506.9,459.6 508.0,458.6 508.6,458.2 C509.2,457.8 509.4,457.0 509.9,456.9 C510.4,456.8 510.8,457.3 511.8,457.6 C512.8,457.9 514.2,458.5 515.7,458.6 C517.2,458.7 519.0,458.4 520.9,458.2 C522.8,458.0 525.4,458.1 527.3,457.6 C529.2,457.1 530.8,456.0 532.5,455.0 C534.2,454.0 536.2,452.7 537.7,451.7 C539.2,450.7 540.3,450.3 541.6,449.1 C542.9,447.9 544.7,444.5 545.5,444.6 C546.3,444.7 546.1,449.7 546.5,449.8 C546.9,449.9 547.4,446.6 548.1,445.3 C548.8,444.0 550.1,443.2 550.7,442.0 C551.4,440.8 551.7,439.5 552.0,438.1 C552.3,436.7 552.3,434.0 552.6,433.6 C552.9,433.2 553.4,435.2 553.9,435.5 C554.4,435.8 555.0,435.2 555.8,435.3 C556.5,435.4 557.1,435.9 558.4,436.2 C559.7,436.5 562.5,436.2 563.6,437.1 C564.7,438.0 564.4,441.4 564.7,441.4 C565.0,441.3 564.7,437.6 565.6,436.8 C566.5,436.0 568.7,436.7 570.1,436.6 C571.5,436.5 572.9,436.3 574.0,436.2 C575.1,436.1 576.1,434.2 576.6,435.8 C577.1,437.4 576.9,445.5 577.2,445.9 C577.5,446.3 577.5,439.3 578.5,438.1 C579.5,436.9 581.4,438.6 583.0,438.8 C584.6,439.0 587.0,438.9 588.2,439.2 C589.4,439.5 589.3,440.5 590.2,440.7 C591.1,440.9 592.4,440.6 593.4,440.1 C594.4,439.6 594.9,438.1 596.0,437.5 C597.1,436.9 597.2,436.7 600.0,436.6 C602.8,436.5 609.0,437.2 613.0,437.0 C617.0,436.8 620.3,436.2 624.0,435.1 C627.7,434.0 632.0,431.6 635.1,430.5 C638.2,429.4 640.1,429.0 642.6,428.2 C645.1,427.4 647.8,426.6 650.1,425.9 C652.4,425.1 654.6,424.6 656.2,423.7 C657.8,422.8 658.8,421.4 659.5,420.7 C660.2,419.9 659.8,419.2 660.4,419.2 C661.0,419.2 661.8,420.2 662.9,420.7 C664.0,421.2 665.3,422.1 666.7,422.2 C668.1,422.3 669.8,421.7 671.2,421.4 C672.7,421.1 675.1,420.9 675.4,420.4 C675.6,419.9 673.9,419.0 672.7,418.4 C671.5,417.8 669.7,417.5 668.2,416.9 C666.7,416.3 665.0,415.6 663.7,414.6 C662.5,413.6 661.4,412.4 660.7,410.9 C660.0,409.4 659.9,407.0 659.5,405.6 C659.1,404.2 658.9,403.5 658.4,402.6 C657.9,401.7 657.3,401.1 656.2,400.3 C655.1,399.6 652.7,399.0 651.6,398.1 C650.5,397.2 650.0,395.9 649.4,395.0 C648.8,394.1 647.8,393.1 647.9,392.8 C648.0,392.6 649.5,393.1 650.1,393.5 C650.7,393.9 650.6,394.9 651.6,395.0 C652.6,395.1 654.7,394.8 656.2,394.3 C657.7,393.8 659.2,392.8 660.7,392.0 C662.2,391.2 664.2,390.6 665.2,389.8 C666.2,389.1 665.8,388.1 666.7,387.5 C667.6,386.9 669.5,386.6 670.5,386.0 C671.5,385.4 672.1,384.6 672.7,383.7 C673.3,382.8 673.9,382.1 673.9,380.7 C673.9,379.3 673.3,376.9 672.7,375.5 C672.1,374.1 671.5,373.4 670.5,372.4 C669.5,371.4 667.8,369.9 666.7,369.4 C665.6,368.8 664.7,368.5 663.7,369.1 C662.7,369.7 662.0,372.1 660.7,373.2 C659.5,374.3 657.2,374.9 656.2,375.5 C655.2,376.1 655.2,377.2 654.7,377.0 C654.2,376.8 653.5,375.3 653.4,374.0 C653.3,372.7 654.1,370.9 653.9,369.4 C653.7,367.9 652.9,366.4 652.4,364.9 C651.9,363.4 651.3,361.8 650.9,360.4 C650.5,359.0 649.9,357.5 650.1,356.6 C650.4,355.7 651.4,355.6 652.4,355.1 C653.4,354.6 654.8,354.0 656.2,353.6 C657.6,353.2 659.2,353.3 660.7,352.9 C662.2,352.5 664.0,352.4 665.2,351.4 C666.4,350.4 667.1,348.6 667.9,346.8 C668.6,345.0 669.0,342.8 669.7,340.8 C670.4,338.8 671.4,336.6 672.0,334.8 C672.6,333.1 673.1,332.1 673.5,330.3 C673.9,328.5 674.1,326.2 674.2,324.2 C674.3,322.2 674.3,320.4 673.9,318.2 C673.5,315.9 672.8,313.1 672.0,310.7 C671.2,308.3 670.1,305.7 669.0,303.9 C667.9,302.1 666.6,300.9 665.2,300.1 C663.8,299.3 662.2,298.9 660.7,298.9 C659.2,298.8 657.7,299.5 656.2,299.8 C654.7,300.1 652.5,301.3 651.6,300.9 C650.7,300.4 650.6,298.2 650.9,297.1 C651.1,296.0 651.7,295.1 653.1,294.1 C654.5,293.1 657.6,292.0 659.2,291.1 C660.8,290.2 662.1,289.8 662.9,288.8 C663.6,287.8 663.2,286.4 663.7,285.1 C664.2,283.8 664.6,282.0 665.8,281.0 C666.9,280.0 668.6,279.7 670.6,279.1 C672.6,278.5 675.8,277.7 677.8,277.2 C679.8,276.7 681.3,276.1 682.7,276.2 C684.1,276.3 685.1,277.6 686.3,277.9 C687.5,278.2 688.9,277.4 689.9,277.9 C690.9,278.4 690.7,280.0 692.3,281.0 C693.9,282.0 696.7,282.8 699.5,283.9 C702.3,285.0 705.9,286.2 709.1,287.5 C712.3,288.8 715.5,290.5 718.7,291.6 C721.9,292.7 725.6,293.6 728.4,294.0 C731.1,294.4 733.3,294.0 735.2,294.2 C737.1,294.4 738.2,295.1 739.7,295.3 C741.2,295.5 743.0,295.2 744.2,295.3 C745.4,295.4 745.9,295.7 746.8,296.2 C747.7,296.7 748.3,296.9 749.4,298.1 C750.5,299.3 752.0,301.5 753.3,303.3 C754.6,305.1 755.9,307.2 757.2,309.1 C758.5,311.0 759.6,312.7 761.1,314.7 C762.6,316.7 764.6,319.2 766.3,321.2 C768.0,323.2 769.5,324.9 771.4,326.6 C773.3,328.3 775.7,330.1 777.9,331.5 C780.1,332.9 782.0,333.9 784.4,335.0 C786.8,336.1 789.6,337.2 792.2,338.0 C794.8,338.8 797.3,339.3 799.9,339.8 C802.5,340.3 805.3,340.6 807.7,340.9 C810.1,341.2 812.2,341.3 814.2,341.5 C816.2,341.7 817.5,342.0 819.4,341.9 C821.3,341.8 823.6,341.2 825.8,340.6 C827.9,340.0 830.3,338.9 832.3,338.0 C834.2,337.1 836.4,336.2 837.5,335.4 C838.6,334.6 837.7,333.8 838.8,333.1 C839.9,332.5 842.0,332.0 844.0,331.5 C846.0,331.0 848.4,330.8 850.5,330.3 C852.6,329.8 854.8,329.2 856.9,328.6 C859.0,328.0 861.2,327.4 863.4,326.9 C865.6,326.3 867.3,326.0 870.0,325.3 C872.7,324.6 876.3,323.8 879.8,322.8 C883.3,321.8 886.2,320.4 890.8,319.2 C895.4,318.0 901.8,316.5 907.3,315.9 C912.8,315.3 920.3,315.6 923.7,315.4 C927.1,315.2 926.4,314.5 927.9,314.6 C929.4,314.7 932.1,315.7 933.0,315.9" fill="none" stroke="#000" stroke-width="2" stroke-linejoin="round" stroke-linecap="round"/>
<path d="M418.4,430.5 C415.8,431.4 407.9,434.7 402.5,436.0 C397.1,437.3 389.1,437.4 386.0,438.2 C382.9,439.0 383.8,440.1 383.8,440.9 C383.8,441.7 386.0,441.0 386.0,442.9 C386.0,444.8 384.7,449.1 383.8,452.5 C382.9,455.9 381.1,459.8 380.5,463.5 C379.9,467.2 379.8,470.4 379.9,474.5 C380.0,478.6 380.4,483.4 381.0,488.2 C381.6,493.0 382.1,500.2 383.8,503.4 C385.6,506.6 388.4,506.1 391.5,507.5 C394.6,508.9 398.8,510.2 402.5,511.6 C406.2,513.0 411.4,513.6 413.5,515.7 C415.6,517.8 414.4,521.7 414.9,524.0 C415.3,526.3 416.3,527.2 416.2,529.5 C416.1,531.8 414.4,534.5 414.0,537.7 C413.6,540.9 413.1,546.2 413.5,548.7 C413.9,551.2 413.9,551.9 416.2,552.8 C418.5,553.7 424.4,553.3 427.2,554.2 C429.9,555.1 431.1,556.5 432.7,558.3 C434.3,560.1 435.6,562.7 436.9,565.2 C438.2,567.7 439.6,570.3 440.4,573.5 C441.2,576.7 441.3,581.1 441.5,584.5 C441.7,587.9 440.9,591.8 441.5,594.1 C442.1,596.4 443.8,597.1 445.1,598.2 C446.4,599.4 448.1,599.2 449.2,601.0 C450.3,602.8 450.9,606.5 452.0,609.2 C453.1,612.0 454.7,615.2 456.1,617.5 C457.5,619.8 459.1,621.0 460.2,623.0 C461.3,625.0 462.6,626.8 463.0,629.8 C463.4,632.8 462.9,636.4 462.4,640.8 C461.9,645.2 461.0,652.4 460.2,656.0 C459.4,659.6 458.3,660.5 457.6,662.7 C456.9,664.9 456.8,668.0 455.8,669.3 C454.8,670.6 455.6,670.6 451.8,670.6 C448.0,670.6 440.2,669.6 433.2,669.3 C426.2,669.0 417.3,668.9 409.7,668.7 C402.1,668.5 394.4,668.2 387.3,668.0 C380.2,667.8 373.6,667.2 367.3,667.5 C361.1,667.8 356.9,669.7 349.8,670.0 C342.7,670.3 331.9,669.5 324.8,669.5 C317.7,669.5 311.1,669.7 307.3,670.0 C303.6,670.3 303.8,672.0 302.3,671.2 C300.9,670.4 299.8,667.1 298.6,665.0 C297.4,662.9 296.8,660.8 294.9,658.7 C293.0,656.6 291.1,653.8 287.4,652.5 C283.6,651.2 276.6,652.0 272.4,651.2 C268.2,650.4 266.1,648.5 262.4,647.5 C258.6,646.5 253.7,646.2 249.9,645.0 C246.2,643.8 242.2,640.8 239.9,640.0 C237.6,639.2 237.4,639.6 236.2,640.0 C234.9,640.4 232.6,641.5 232.4,642.5 C232.2,643.5 232.6,645.0 234.9,646.2 C237.2,647.5 243.9,647.7 246.2,650.0 C248.5,652.3 248.7,657.6 248.7,660.0 C248.7,662.4 248.9,663.5 246.2,664.2 C243.5,664.9 236.4,664.0 232.4,664.2 C228.4,664.4 224.9,665.6 222.4,665.5 C219.9,665.4 218.7,666.3 217.4,663.7 C216.2,661.1 215.7,654.5 214.9,650.0 C214.1,645.5 213.7,639.8 212.6,636.7 C211.5,633.6 210.1,632.4 208.5,631.2 C206.9,630.1 204.8,630.5 203.0,629.8 C201.2,629.1 199.3,627.5 197.5,627.1 C195.7,626.7 194.1,626.2 192.0,627.1 C189.9,628.0 187.1,631.1 185.1,632.6 C183.1,634.1 181.6,634.6 180.0,636.0 C178.4,637.4 177.2,638.9 175.5,640.8 C173.8,642.7 171.8,645.6 170.0,647.5 C168.2,649.4 166.2,650.3 164.5,652.0 C162.8,653.7 161.2,656.2 160.0,657.5 C158.8,658.8 157.6,658.5 157.5,660.0 C157.4,661.5 159.0,663.7 159.7,666.5 C160.4,669.3 160.8,673.2 161.7,676.6 C162.5,680.0 163.8,683.6 164.8,686.8 C165.8,690.0 166.9,693.5 167.9,696.0 C168.9,698.5 170.3,699.7 170.9,702.1 C171.5,704.5 170.5,708.6 171.5,710.2 C172.5,711.8 175.6,710.6 177.0,711.6 C178.4,712.6 179.1,714.4 180.1,716.3 C181.1,718.2 182.9,721.5 183.1,723.0 C183.3,724.5 181.4,724.2 181.1,725.5 C180.8,726.8 181.8,728.6 181.1,730.6 C180.4,732.6 178.7,735.5 177.0,737.7 C175.3,739.9 172.9,741.8 170.9,743.8 C168.9,745.8 167.0,748.7 164.8,749.9 C162.6,751.1 160.2,751.0 157.7,750.9 C155.1,750.8 152.2,749.7 149.5,749.5 C146.8,749.3 143.6,749.6 141.4,749.9 C139.2,750.2 137.2,750.5 136.3,751.5 C135.4,752.5 135.4,753.9 135.7,756.0 C136.0,758.1 138.0,761.4 138.3,764.1 C138.6,766.8 137.9,769.6 137.3,772.3 C136.7,775.0 135.6,777.3 134.9,780.4 C134.2,783.5 133.9,787.7 133.3,790.6 C132.7,793.5 131.3,795.3 131.2,797.7 C131.1,800.1 132.7,801.9 132.9,804.8 C133.1,807.7 131.6,812.3 132.2,815.0 C132.8,817.7 134.4,818.9 136.3,821.1 C138.2,823.3 141.7,825.8 143.4,828.2 C145.1,830.6 145.8,832.5 146.5,835.4 C147.2,838.3 146.7,842.6 147.5,845.5 C148.3,848.4 150.2,850.3 151.6,852.7 C152.9,855.1 154.3,857.5 155.6,860.0 C156.9,862.5 158.7,864.5 159.3,867.4 C160.0,870.3 160.0,874.0 159.5,877.3 C159.0,880.6 156.9,883.6 156.2,887.3 C155.4,891.0 155.2,896.4 155.0,899.7 C154.8,903.0 154.8,904.2 155.0,907.1 C155.2,910.0 155.9,913.5 156.5,917.0 C157.1,920.5 158.5,925.1 158.6,928.4 C158.7,931.7 157.8,934.1 157.2,936.9 C156.6,939.7 155.0,941.6 155.0,945.4 C155.0,949.2 156.6,955.9 157.2,959.6 C157.8,963.3 157.9,965.7 158.6,967.4 C159.3,969.1 159.8,969.5 161.4,969.8 C163.1,970.1 166.7,968.7 168.5,969.2 C170.3,969.7 170.6,971.4 172.1,973.0 C173.6,974.6 175.6,976.5 177.7,978.7 C179.8,981.0 183.0,984.5 184.8,986.5 C186.6,988.5 187.5,989.5 188.4,990.8 C189.3,992.1 189.4,993.9 190.5,994.3 C191.6,994.6 193.2,993.1 194.8,992.9 C196.4,992.7 198.6,992.6 200.1,993.3 C201.6,994.0 202.1,994.8 203.6,996.9 C205.1,999.0 206.8,1002.8 208.9,1005.7 C211.0,1008.7 213.3,1012.2 216.0,1014.6 C218.7,1017.0 222.5,1018.1 224.9,1019.9 C227.3,1021.7 230.2,1023.4 230.2,1025.2 C230.2,1027.0 227.3,1029.1 224.9,1030.6 C222.5,1032.1 218.1,1032.6 216.0,1034.1 C213.9,1035.6 213.4,1037.0 212.5,1039.4 C211.6,1041.8 211.9,1046.0 210.7,1048.3 C209.5,1050.5 208.1,1051.7 205.4,1052.9 C202.8,1054.1 198.2,1054.6 194.8,1055.4 C191.4,1056.2 186.6,1057.6 185.0,1058.0" fill="none" stroke="#000" stroke-width="2" stroke-linejoin="round" stroke-linecap="round"/>
<path d="M463.0,630.7 C465.3,630.6 472.1,630.1 476.7,629.8 C481.3,629.5 488.0,628.5 490.5,629.0 C493.0,629.5 492.0,631.1 491.8,632.6 C491.6,634.1 490.2,635.6 489.1,638.1 C488.0,640.6 486.4,644.3 485.0,647.7 C483.6,651.1 481.8,655.7 480.8,658.7 C479.8,661.8 478.4,663.8 478.9,666.0 C479.4,668.2 481.6,671.0 483.7,672.0 C485.8,673.0 489.0,672.9 491.7,672.0 C494.4,671.1 497.0,667.8 499.6,666.6 C502.2,665.4 504.7,665.2 507.6,664.8 C510.5,664.4 514.9,664.6 516.9,664.0 C518.9,663.4 518.3,662.3 519.6,661.3 C520.9,660.3 522.8,658.5 524.8,658.1 C526.8,657.7 529.7,658.4 531.7,658.7 C533.7,659.0 535.6,658.7 536.9,660.0 C538.2,661.3 538.2,665.1 539.5,666.6 C540.8,668.1 542.7,668.4 544.9,669.3 C547.1,670.2 550.1,670.9 552.8,672.0 C555.4,673.1 558.1,674.5 560.8,676.0 C563.5,677.5 566.1,679.5 568.8,680.7 C571.5,681.9 574.8,683.3 576.8,683.4 C578.8,683.5 579.6,682.8 580.7,681.3 C581.8,679.8 582.5,676.8 583.4,674.6 C584.3,672.4 585.5,670.0 586.1,668.0 C586.7,666.0 586.9,665.5 586.9,662.7 C586.9,659.9 586.0,654.1 586.0,651.0 C586.0,647.9 586.3,646.2 586.9,644.1 C587.5,642.0 588.7,640.7 589.6,638.6 C590.5,636.5 592.1,634.5 592.4,631.7 C592.7,629.0 592.4,624.3 591.5,622.1 C590.6,619.9 588.3,619.8 586.9,618.3 C585.5,616.8 584.2,615.0 583.3,613.0 C582.4,611.0 582.0,608.9 581.5,606.0 C581.0,603.1 580.4,598.5 580.0,595.5 C579.6,592.5 579.0,590.0 579.3,588.0 C579.6,586.0 580.0,584.7 582.0,583.5 C584.0,582.3 587.7,581.7 591.0,580.8 C594.3,579.9 598.4,578.8 602.0,578.1 C605.6,577.4 610.3,579.2 612.4,576.7 C614.5,574.2 613.4,567.1 614.4,563.0 C615.4,558.9 616.7,555.7 618.5,552.0 C620.3,548.3 623.1,544.7 625.4,541.0 C627.7,537.3 630.5,534.1 632.2,530.0 C633.9,525.9 635.2,520.8 635.8,516.2 C636.4,511.6 636.0,509.4 636.0,502.5 C636.0,495.6 636.0,484.2 636.0,475.0 C636.0,465.8 636.0,454.9 636.0,447.5 C636.0,440.1 635.8,433.3 635.8,430.5" fill="none" stroke="#000" stroke-width="2" stroke-linejoin="round" stroke-linecap="round"/>
<ellipse cx="272.8" cy="150" rx="1.4" ry="1.4" transform="rotate(0 272.8 150)" fill="#000"/>
<ellipse cx="293.2" cy="143.9" rx="1.4" ry="1.4" transform="rotate(0 293.2 143.9)" fill="#000"/>
<ellipse cx="267.8" cy="194.8" rx="3.4" ry="2" transform="rotate(15 267.8 194.8)" fill="none" stroke="#000" stroke-width="1.6"/>
<ellipse cx="238.7" cy="313.5" rx="1.8" ry="2.8" transform="rotate(0 238.7 313.5)" fill="none" stroke="#000" stroke-width="1.6"/>
<ellipse cx="294.5" cy="289.8" rx="1.6" ry="3.2" transform="rotate(-40 294.5 289.8)" fill="none" stroke="#000" stroke-width="1.6"/>
<ellipse cx="303" cy="296.3" rx="2.6" ry="2" transform="rotate(10 303 296.3)" fill="none" stroke="#000" stroke-width="1.6"/>
<ellipse cx="335.4" cy="302.2" rx="2.6" ry="1.6" transform="rotate(0 335.4 302.2)" fill="none" stroke="#000" stroke-width="1.6"/>
<ellipse cx="389.7" cy="329.3" rx="3" ry="3.5" transform="rotate(0 389.7 329.3)" fill="none" stroke="#000" stroke-width="1.6"/>
<ellipse cx="402.2" cy="331.7" rx="3.6" ry="2.3" transform="rotate(10 402.2 331.7)" fill="none" stroke="#000" stroke-width="1.6"/>
<ellipse cx="523.3" cy="314.4" rx="3" ry="2.4" transform="rotate(30 523.3 314.4)" fill="none" stroke="#000" stroke-width="1.6"/>
<ellipse cx="525.4" cy="337.6" rx="1.6" ry="1.6" transform="rotate(0 525.4 337.6)" fill="#000"/>
<ellipse cx="467.8" cy="355.3" rx="2.2" ry="1.6" transform="rotate(0 467.8 355.3)" fill="#000"/>
<ellipse cx="426.6" cy="381.2" rx="1.7" ry="1.7" transform="rotate(0 426.6 381.2)" fill="#000"/>
<ellipse cx="427.4" cy="386.2" rx="1.5" ry="1.5" transform="rotate(0 427.4 386.2)" fill="#000"/>
<ellipse cx="437.3" cy="383.1" rx="1.7" ry="1.7" transform="rotate(0 437.3 383.1)" fill="#000"/>
<ellipse cx="309.3" cy="224.9" rx="1.3" ry="1.3" transform="rotate(0 309.3 224.9)" fill="#000"/>
<ellipse cx="311.8" cy="226.7" rx="1.3" ry="1.3" transform="rotate(0 311.8 226.7)" fill="#000"/>
<ellipse cx="306.7" cy="231.8" rx="1.3" ry="1.8" transform="rotate(0 306.7 231.8)" fill="#000"/>
<ellipse cx="651.6" cy="357.4" rx="1.6" ry="1.6" transform="rotate(0 651.6 357.4)" fill="none" stroke="#000" stroke-width="1.6"/>
<ellipse cx="662.5" cy="373.3" rx="1.6" ry="1" transform="rotate(0 662.5 373.3)" fill="#000"/>
<ellipse cx="670.5" cy="386" rx="1.4" ry="1.4" transform="rotate(0 670.5 386)" fill="none" stroke="#000" stroke-width="1.6"/>
<path d="M201.8,170.1 L215.1,171.5 L218.7,172.9 L229.2,177.8" fill="none" stroke="#000" stroke-width="2.4" stroke-linejoin="round" stroke-linecap="round"/>
<path d="M234.5,178.6 L246.1,179.4" fill="none" stroke="#000" stroke-width="2.6" stroke-linejoin="round" stroke-linecap="round"/>
<path d="M317.8,231.9 L322.0,228.0 L328.0,225.0 L335.7,223.5 L330.0,226.0 L324.0,229.0 L317.8,231.9" fill="none" stroke="#000" stroke-width="1.8" stroke-linejoin="round" stroke-linecap="round"/>
<path d="M650.3,356.2 L652.2,359.6 L657.2,363.2" fill="none" stroke="#000" stroke-width="2.0" stroke-linejoin="round" stroke-linecap="round"/>
<path d="M660.8,373.4 L664.6,373.4" fill="none" stroke="#000" stroke-width="1.8" stroke-linejoin="round" stroke-linecap="round"/>
</g>
<rect x="62.5" y="132.5" width="871" height="924" fill="none" stroke="#000" stroke-width="3"/>
</svg>
<div class="t" style="left:735px;top:1044px;font-size:10.4px;color:#111">©Sub Bidang Prediksi Cuaca BMKG, 2026</div>
<svg width="1081" height="1128" viewBox="0 0 1081 1128" style="position:absolute;left:0;top:0">
<rect x="970" y="224" width="20" height="35" fill="#2d004b" shape-rendering="crispEdges"/>
<rect x="970" y="258" width="20" height="49" fill="#053061" shape-rendering="crispEdges"/>
<rect x="970" y="306" width="20" height="49" fill="#2166ac" shape-rendering="crispEdges"/>
<rect x="970" y="354" width="20" height="49" fill="#4393c3" shape-rendering="crispEdges"/>
<rect x="970" y="402" width="20" height="49" fill="#92c5de" shape-rendering="crispEdges"/>
<rect x="970" y="450" width="20" height="49" fill="#d1e5f0" shape-rendering="crispEdges"/>
<rect x="970" y="498" width="20" height="49" fill="#f7f7f7" shape-rendering="crispEdges"/>
<rect x="970" y="546" width="20" height="49" fill="#ffe000" shape-rendering="crispEdges"/>
<rect x="970" y="594" width="20" height="49" fill="#fee391" shape-rendering="crispEdges"/>
<rect x="970" y="642" width="20" height="49" fill="#fec44f" shape-rendering="crispEdges"/>
<rect x="970" y="690" width="20" height="49" fill="#fe9929" shape-rendering="crispEdges"/>
<rect x="970" y="738" width="20" height="49" fill="#cc4c02" shape-rendering="crispEdges"/>
<rect x="970" y="786" width="20" height="49" fill="#993404" shape-rendering="crispEdges"/>
<rect x="970" y="834" width="20" height="49" fill="#662506" shape-rendering="crispEdges"/>
<rect x="970" y="882" width="20" height="49" fill="#a50f15" shape-rendering="crispEdges"/>
<rect x="970" y="930" width="20" height="35" fill="#e6392e" shape-rendering="crispEdges"/>
<rect x="970.4" y="224.4" width="19.2" height="740" fill="none" stroke="#000" stroke-width="2.8"/>
<line x1="990" y1="258.5" x2="1002" y2="258.5" stroke="#000" stroke-width="2.6"/>
<line x1="990" y1="306.5" x2="1002" y2="306.5" stroke="#000" stroke-width="2.6"/>
<line x1="990" y1="354.5" x2="1002" y2="354.5" stroke="#000" stroke-width="2.6"/>
<line x1="990" y1="402.5" x2="1002" y2="402.5" stroke="#000" stroke-width="2.6"/>
<line x1="990" y1="450.5" x2="1002" y2="450.5" stroke="#000" stroke-width="2.6"/>
<line x1="990" y1="498.5" x2="1002" y2="498.5" stroke="#000" stroke-width="2.6"/>
<line x1="990" y1="546.5" x2="1002" y2="546.5" stroke="#000" stroke-width="2.6"/>
<line x1="990" y1="594.5" x2="1002" y2="594.5" stroke="#000" stroke-width="2.6"/>
<line x1="990" y1="642.5" x2="1002" y2="642.5" stroke="#000" stroke-width="2.6"/>
<line x1="990" y1="690.5" x2="1002" y2="690.5" stroke="#000" stroke-width="2.6"/>
<line x1="990" y1="738.5" x2="1002" y2="738.5" stroke="#000" stroke-width="2.6"/>
<line x1="990" y1="786.5" x2="1002" y2="786.5" stroke="#000" stroke-width="2.6"/>
<line x1="990" y1="834.5" x2="1002" y2="834.5" stroke="#000" stroke-width="2.6"/>
<line x1="990" y1="882.5" x2="1002" y2="882.5" stroke="#000" stroke-width="2.6"/>
<line x1="990" y1="930.5" x2="1002" y2="930.5" stroke="#000" stroke-width="2.6"/>
</svg>
<div class="t" style="left:1013.7px;top:251.4px;font-size:17px">100.0</div>
<div class="t" style="left:1013.7px;top:299.4px;font-size:17px">90.0</div>
<div class="t" style="left:1013.7px;top:347.4px;font-size:17px">80.0</div>
<div class="t" style="left:1013.7px;top:395.4px;font-size:17px">70.0</div>
<div class="t" style="left:1013.7px;top:443.4px;font-size:17px">60.0</div>
<div class="t" style="left:1013.7px;top:491.4px;font-size:17px">50.0</div>
<div class="t" style="left:1013.7px;top:539.4px;font-size:17px">40.0</div>
<div class="t" style="left:1013.7px;top:587.4px;font-size:17px">30.0</div>
<div class="t" style="left:1013.7px;top:635.4px;font-size:17px">20.0</div>
<div class="t" style="left:1013.7px;top:683.4px;font-size:17px">10.0</div>
<div class="t" style="left:1013.7px;top:731.4px;font-size:17px">5.0</div>
<div class="t" style="left:1013.7px;top:779.4px;font-size:17px">2.0</div>
<div class="t" style="left:1013.7px;top:827.4px;font-size:17px">1.0</div>
<div class="t" style="left:1013.7px;top:875.4px;font-size:17px">0.5</div>
<div class="t" style="left:1013.7px;top:923.4px;font-size:17px">0.0</div>
<div class="t" style="left:25.8px;top:343.9px;font-size:16.7px">6°S</div>
<div class="t" style="left:638.3px;top:1066px;font-size:17px">107°E</div>
<div class="t" style="left:61.2px;top:1087.5px;font-size:17.5px">Model: IFS 0.125</div>
<div class="t" style="right:147.5px;top:1087.5px;font-size:17.4px">Sumber: CIPS BMKG</div>
</body></html>
